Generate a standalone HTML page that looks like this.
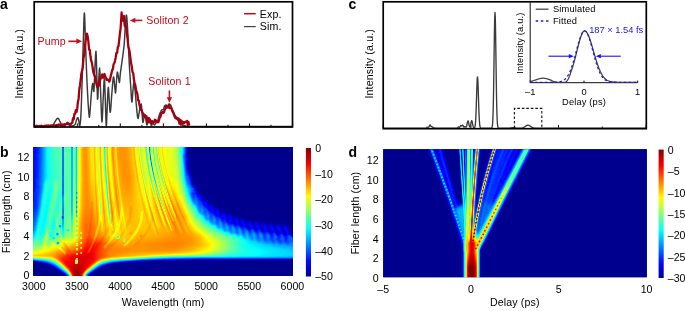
<!DOCTYPE html><html><head><meta charset="utf-8"><title>Figure</title><style>
html,body{margin:0;padding:0;background:#fff}svg{display:block}
text{font-family:"Liberation Sans",sans-serif;font-size:10.6px;fill:#000}
.w{letter-spacing:.15px}.sm{font-size:9.3px}.pl{font-weight:bold;font-size:14px;fill:#000}.red{fill:#c00a1a}.blue{fill:#1414f0}
.ax{fill:none;stroke:#000;stroke-width:1.7}.tk{stroke:#000;stroke-width:1;fill:none}
</style></head><body>
<svg width="685" height="311" viewBox="0 0 685 311">
<rect width="685" height="311" fill="#fff"/>
<rect x="33.5" y="147.5" width="259.5" height="128" fill="#00008f"/>
<defs><linearGradient id="b0" x2="0" y2="1"><stop offset="0" stop-color="#1c1c1c"/><stop offset=".238" stop-color="#1e1e1e"/><stop offset=".473" stop-color="#262626"/><stop offset=".691" stop-color="#4e4e4e"/><stop offset=".793" stop-color="#848484"/><stop offset=".809" stop-color="#8e8e8e"/><stop offset=".84" stop-color="#a7a7a7"/><stop offset=".848" stop-color="#a9a9a9"/><stop offset=".855" stop-color="#9c9c9c"/><stop offset=".863" stop-color="#7f7f7f"/><stop offset=".887" stop-color="#1b1b1b"/><stop offset=".895" stop-color="#000"/><stop offset="1" stop-color="#000"/></linearGradient><linearGradient id="b1" x2="0" y2="1"><stop offset="0" stop-color="#212121"/><stop offset=".238" stop-color="#242424"/><stop offset=".441" stop-color="#2c2c2c"/><stop offset=".473" stop-color="#2f2f2f"/><stop offset=".605" stop-color="#484848"/><stop offset=".691" stop-color="#555"/><stop offset=".73" stop-color="#676767"/><stop offset=".793" stop-color="#888"/><stop offset=".84" stop-color="#a9a9a9"/><stop offset=".848" stop-color="#aaa"/><stop offset=".855" stop-color="#9e9e9e"/><stop offset=".863" stop-color="#838383"/><stop offset=".895" stop-color="#050505"/><stop offset=".902" stop-color="#000"/><stop offset="1" stop-color="#000"/></linearGradient><linearGradient id="b2" x2="0" y2="1"><stop offset="0" stop-color="#262626"/><stop offset=".23" stop-color="#2b2b2b"/><stop offset=".473" stop-color="#383838"/><stop offset=".613" stop-color="#525252"/><stop offset=".691" stop-color="#5c5c5c"/><stop offset=".762" stop-color="#7b7b7b"/><stop offset=".801" stop-color="#909090"/><stop offset=".84" stop-color="#aaa"/><stop offset=".848" stop-color="#ababab"/><stop offset=".855" stop-color="#9f9f9f"/><stop offset=".863" stop-color="#868686"/><stop offset=".895" stop-color="#0f0f0f"/><stop offset=".902" stop-color="#000"/><stop offset="1" stop-color="#000"/></linearGradient><linearGradient id="b3" x2="0" y2="1"><stop offset="0" stop-color="#303030"/><stop offset=".23" stop-color="#353535"/><stop offset=".449" stop-color="#434343"/><stop offset=".676" stop-color="#606060"/><stop offset=".699" stop-color="#656565"/><stop offset=".754" stop-color="#7b7b7b"/><stop offset=".801" stop-color="#939393"/><stop offset=".84" stop-color="#ababab"/><stop offset=".848" stop-color="#acacac"/><stop offset=".855" stop-color="#a1a1a1"/><stop offset=".863" stop-color="#898989"/><stop offset=".895" stop-color="#191919"/><stop offset=".902" stop-color="#000"/><stop offset="1" stop-color="#000"/></linearGradient><linearGradient id="b4" x2="0" y2="1"><stop offset="0" stop-color="#3b3b3b"/><stop offset=".238" stop-color="#404040"/><stop offset=".473" stop-color="#525252"/><stop offset=".676" stop-color="#656565"/><stop offset=".699" stop-color="#6a6a6a"/><stop offset=".746" stop-color="#7b7b7b"/><stop offset=".793" stop-color="#929292"/><stop offset=".84" stop-color="#acacac"/><stop offset=".848" stop-color="#adadad"/><stop offset=".855" stop-color="#a2a2a2"/><stop offset=".863" stop-color="#8c8c8c"/><stop offset=".902" stop-color="#070707"/><stop offset=".91" stop-color="#000"/><stop offset="1" stop-color="#000"/></linearGradient><linearGradient id="b5" x2="0" y2="1"><stop offset="0" stop-color="#4a4a4a"/><stop offset=".23" stop-color="#4b4b4b"/><stop offset=".457" stop-color="#5c5c5c"/><stop offset=".613" stop-color="#646464"/><stop offset=".676" stop-color="#6a6a6a"/><stop offset=".699" stop-color="#6f6f6f"/><stop offset=".746" stop-color="#7f7f7f"/><stop offset=".832" stop-color="#aaa"/><stop offset=".84" stop-color="#aeaeae"/><stop offset=".848" stop-color="#aeaeae"/><stop offset=".855" stop-color="#a5a5a5"/><stop offset=".863" stop-color="#909090"/><stop offset=".902" stop-color="#121212"/><stop offset=".91" stop-color="#000"/><stop offset="1" stop-color="#000"/></linearGradient><linearGradient id="b6" x2="0" y2="1"><stop offset="0" stop-color="#585858"/><stop offset=".23" stop-color="#585858"/><stop offset=".621" stop-color="#676767"/><stop offset=".691" stop-color="#727272"/><stop offset=".738" stop-color="#7f7f7f"/><stop offset=".762" stop-color="#888"/><stop offset=".832" stop-color="#acacac"/><stop offset=".848" stop-color="#b0b0b0"/><stop offset=".855" stop-color="#a7a7a7"/><stop offset=".863" stop-color="#959595"/><stop offset=".91" stop-color="#080808"/><stop offset=".918" stop-color="#000"/><stop offset="1" stop-color="#000"/></linearGradient><linearGradient id="b7" x2="0" y2="1"><stop offset="0" stop-color="#606060"/><stop offset=".23" stop-color="#5f5f5f"/><stop offset=".613" stop-color="#666"/><stop offset=".684" stop-color="#737373"/><stop offset=".738" stop-color="#838383"/><stop offset=".762" stop-color="#8b8b8b"/><stop offset=".832" stop-color="#aeaeae"/><stop offset=".848" stop-color="#b1b1b1"/><stop offset=".855" stop-color="#a9a9a9"/><stop offset=".863" stop-color="#989898"/><stop offset=".918" stop-color="#000"/><stop offset="1" stop-color="#000"/></linearGradient><linearGradient id="b8" x2="0" y2="1"><stop offset="0" stop-color="#676767"/><stop offset=".23" stop-color="#646464"/><stop offset=".457" stop-color="#686868"/><stop offset=".621" stop-color="#666"/><stop offset=".684" stop-color="#707070"/><stop offset=".699" stop-color="#747474"/><stop offset=".754" stop-color="#8b8b8b"/><stop offset=".824" stop-color="#adadad"/><stop offset=".84" stop-color="#b3b3b3"/><stop offset=".848" stop-color="#b3b3b3"/><stop offset=".855" stop-color="#acacac"/><stop offset=".863" stop-color="#9d9d9d"/><stop offset=".918" stop-color="#101010"/><stop offset=".926" stop-color="#000"/><stop offset="1" stop-color="#000"/></linearGradient><linearGradient id="b9" x2="0" y2="1"><stop offset="0" stop-color="#6a6a6a"/><stop offset=".23" stop-color="#696969"/><stop offset=".457" stop-color="#6b6b6b"/><stop offset=".605" stop-color="#656565"/><stop offset=".629" stop-color="#666"/><stop offset=".691" stop-color="#6e6e6e"/><stop offset=".801" stop-color="#a5a5a5"/><stop offset=".832" stop-color="#b2b2b2"/><stop offset=".848" stop-color="#b6b6b6"/><stop offset=".855" stop-color="#b2b2b2"/><stop offset=".863" stop-color="#a7a7a7"/><stop offset=".879" stop-color="#848484"/><stop offset=".934" stop-color="#000"/><stop offset="1" stop-color="#000"/></linearGradient><linearGradient id="b10" x2="0" y2="1"><stop offset="0" stop-color="#6d6d6d"/><stop offset=".23" stop-color="#6a6a6a"/><stop offset=".457" stop-color="#6c6c6c"/><stop offset=".613" stop-color="#646464"/><stop offset=".676" stop-color="#686868"/><stop offset=".699" stop-color="#6e6e6e"/><stop offset=".754" stop-color="#919191"/><stop offset=".777" stop-color="#9d9d9d"/><stop offset=".816" stop-color="#aeaeae"/><stop offset=".848" stop-color="#b9b9b9"/><stop offset=".855" stop-color="#b7b7b7"/><stop offset=".863" stop-color="#b0b0b0"/><stop offset=".871" stop-color="#a2a2a2"/><stop offset=".941" stop-color="#020202"/><stop offset="1" stop-color="#000"/></linearGradient><linearGradient id="b11" x2="0" y2="1"><stop offset="0" stop-color="#707070"/><stop offset=".23" stop-color="#6c6c6c"/><stop offset=".457" stop-color="#6c6c6c"/><stop offset=".613" stop-color="#656565"/><stop offset=".684" stop-color="#676767"/><stop offset=".699" stop-color="#6d6d6d"/><stop offset=".746" stop-color="#909090"/><stop offset=".762" stop-color="#999"/><stop offset=".824" stop-color="#b5b5b5"/><stop offset=".855" stop-color="#bfbfbf"/><stop offset=".863" stop-color="#bdbdbd"/><stop offset=".871" stop-color="#b4b4b4"/><stop offset=".879" stop-color="#a6a6a6"/><stop offset=".949" stop-color="#060606"/><stop offset=".957" stop-color="#000"/><stop offset="1" stop-color="#000"/></linearGradient><linearGradient id="b12" x2="0" y2="1"><stop offset="0" stop-color="#727272"/><stop offset=".23" stop-color="#6d6d6d"/><stop offset=".457" stop-color="#6d6d6d"/><stop offset=".605" stop-color="#686868"/><stop offset=".676" stop-color="#6b6b6b"/><stop offset=".691" stop-color="#6e6e6e"/><stop offset=".699" stop-color="#727272"/><stop offset=".746" stop-color="#949494"/><stop offset=".762" stop-color="#9d9d9d"/><stop offset=".848" stop-color="#c3c3c3"/><stop offset=".863" stop-color="#c7c7c7"/><stop offset=".871" stop-color="#c5c5c5"/><stop offset=".879" stop-color="#bcbcbc"/><stop offset=".887" stop-color="#aeaeae"/><stop offset=".957" stop-color="#090909"/><stop offset=".965" stop-color="#000"/><stop offset="1" stop-color="#000"/></linearGradient><linearGradient id="b13" x2="0" y2="1"><stop offset="0" stop-color="#747474"/><stop offset=".605" stop-color="#6a6a6a"/><stop offset=".668" stop-color="#6f6f6f"/><stop offset=".691" stop-color="#737373"/><stop offset=".754" stop-color="#9c9c9c"/><stop offset=".809" stop-color="#b4b4b4"/><stop offset=".848" stop-color="#c8c8c8"/><stop offset=".871" stop-color="#cfcfcf"/><stop offset=".879" stop-color="#cecece"/><stop offset=".887" stop-color="#c7c7c7"/><stop offset=".895" stop-color="#b9b9b9"/><stop offset=".973" stop-color="#000"/><stop offset="1" stop-color="#000"/></linearGradient><linearGradient id="b14" x2="0" y2="1"><stop offset="0" stop-color="#757575"/><stop offset=".598" stop-color="#6c6c6c"/><stop offset=".629" stop-color="#6e6e6e"/><stop offset=".691" stop-color="#787878"/><stop offset=".762" stop-color="#a3a3a3"/><stop offset=".809" stop-color="#b8b8b8"/><stop offset=".848" stop-color="#ccc"/><stop offset=".871" stop-color="#d5d5d5"/><stop offset=".887" stop-color="#d7d7d7"/><stop offset=".895" stop-color="#d2d2d2"/><stop offset=".902" stop-color="#c6c6c6"/><stop offset=".91" stop-color="#b6b6b6"/><stop offset=".98" stop-color="#080808"/><stop offset=".988" stop-color="#000"/><stop offset="1" stop-color="#000"/></linearGradient><linearGradient id="b15" x2="0" y2="1"><stop offset="0" stop-color="#747474"/><stop offset=".473" stop-color="#707070"/><stop offset=".605" stop-color="#717171"/><stop offset=".668" stop-color="#777"/><stop offset=".684" stop-color="#797979"/><stop offset=".699" stop-color="#7f7f7f"/><stop offset=".754" stop-color="#a3a3a3"/><stop offset=".809" stop-color="#bbb"/><stop offset=".848" stop-color="#d0d0d0"/><stop offset=".895" stop-color="#ddd"/><stop offset=".902" stop-color="#dcdcdc"/><stop offset=".91" stop-color="#d5d5d5"/><stop offset=".918" stop-color="#c7c7c7"/><stop offset=".934" stop-color="#a0a0a0"/><stop offset=".988" stop-color="#0f0f0f"/><stop offset=".996" stop-color="#000"/><stop offset="1" stop-color="#000"/></linearGradient><linearGradient id="b16" x2="0" y2="1"><stop offset="0" stop-color="#747474"/><stop offset=".465" stop-color="#727272"/><stop offset=".613" stop-color="#767676"/><stop offset=".676" stop-color="#7c7c7c"/><stop offset=".699" stop-color="#838383"/><stop offset=".754" stop-color="#a5a5a5"/><stop offset=".848" stop-color="#d4d4d4"/><stop offset=".895" stop-color="#e0e0e0"/><stop offset=".91" stop-color="#e2e2e2"/><stop offset=".918" stop-color="#e0e0e0"/><stop offset=".926" stop-color="#d8d8d8"/><stop offset=".934" stop-color="#c9c9c9"/><stop offset=".949" stop-color="#9f9f9f"/><stop offset=".996" stop-color="#161616"/><stop offset="1" stop-color="#161616"/></linearGradient><linearGradient id="b17" x2="0" y2="1"><stop offset="0" stop-color="#737373"/><stop offset=".457" stop-color="#747474"/><stop offset=".676" stop-color="#808080"/><stop offset=".699" stop-color="#868686"/><stop offset=".754" stop-color="#a6a6a6"/><stop offset=".848" stop-color="#d7d7d7"/><stop offset=".902" stop-color="#e3e3e3"/><stop offset=".926" stop-color="#e4e4e4"/><stop offset=".934" stop-color="#e2e2e2"/><stop offset=".941" stop-color="#dcdcdc"/><stop offset=".949" stop-color="#ccc"/><stop offset=".965" stop-color="#9d9d9d"/><stop offset=".996" stop-color="#373737"/><stop offset="1" stop-color="#373737"/></linearGradient><linearGradient id="b18" x2="0" y2="1"><stop offset="0" stop-color="#737373"/><stop offset=".457" stop-color="#767676"/><stop offset=".684" stop-color="#858585"/><stop offset=".707" stop-color="#8e8e8e"/><stop offset=".754" stop-color="#a8a8a8"/><stop offset=".801" stop-color="#bfbfbf"/><stop offset=".848" stop-color="#dbdbdb"/><stop offset=".902" stop-color="#e5e5e5"/><stop offset=".941" stop-color="#e6e6e6"/><stop offset=".957" stop-color="#e4e4e4"/><stop offset=".965" stop-color="#dcdcdc"/><stop offset=".973" stop-color="#c9c9c9"/><stop offset=".996" stop-color="#777"/><stop offset="1" stop-color="#777"/></linearGradient><linearGradient id="b19" x2="0" y2="1"><stop offset="0" stop-color="#747474"/><stop offset=".457" stop-color="#7a7a7a"/><stop offset=".613" stop-color="#898989"/><stop offset=".684" stop-color="#8b8b8b"/><stop offset=".707" stop-color="#929292"/><stop offset=".801" stop-color="#c1c1c1"/><stop offset=".84" stop-color="#dadada"/><stop offset=".855" stop-color="#e0e0e0"/><stop offset=".91" stop-color="#e8e8e8"/><stop offset=".98" stop-color="#eee"/><stop offset=".988" stop-color="#ececec"/><stop offset=".996" stop-color="#e2e2e2"/><stop offset="1" stop-color="#e2e2e2"/></linearGradient><linearGradient id="b20" x2="0" y2="1"><stop offset="0" stop-color="#757575"/><stop offset=".23" stop-color="#7a7a7a"/><stop offset=".449" stop-color="#828282"/><stop offset=".613" stop-color="#919191"/><stop offset=".691" stop-color="#919191"/><stop offset=".715" stop-color="#9a9a9a"/><stop offset=".793" stop-color="#bfbfbf"/><stop offset=".848" stop-color="#e0e0e0"/><stop offset=".98" stop-color="#f5f5f5"/><stop offset="1" stop-color="#f7f7f7"/></linearGradient><linearGradient id="b21" x2="0" y2="1"><stop offset="0" stop-color="#797979"/><stop offset=".238" stop-color="#7f7f7f"/><stop offset=".457" stop-color="#8c8c8c"/><stop offset=".613" stop-color="#9a9a9a"/><stop offset=".691" stop-color="#989898"/><stop offset=".707" stop-color="#9c9c9c"/><stop offset=".762" stop-color="#b3b3b3"/><stop offset=".801" stop-color="#c7c7c7"/><stop offset=".848" stop-color="#e3e3e3"/><stop offset=".91" stop-color="#ebebeb"/><stop offset=".988" stop-color="#fbfbfb"/><stop offset="1" stop-color="#fcfcfc"/></linearGradient><linearGradient id="b22" x2="0" y2="1"><stop offset="0" stop-color="#8d8d8d"/><stop offset=".23" stop-color="#909090"/><stop offset=".441" stop-color="#979797"/><stop offset=".613" stop-color="#a7a7a7"/><stop offset=".691" stop-color="#a7a7a7"/><stop offset=".754" stop-color="#b8b8b8"/><stop offset=".801" stop-color="#ccc"/><stop offset=".848" stop-color="#e5e5e5"/><stop offset=".91" stop-color="#ebebeb"/><stop offset=".988" stop-color="#f9f9f9"/><stop offset="1" stop-color="#fafafa"/></linearGradient><linearGradient id="b23" x2="0" y2="1"><stop offset="0" stop-color="#a4a4a4"/><stop offset=".23" stop-color="#a2a2a2"/><stop offset=".449" stop-color="#a5a5a5"/><stop offset=".613" stop-color="#b3b3b3"/><stop offset=".691" stop-color="#b4b4b4"/><stop offset=".754" stop-color="#c0c0c0"/><stop offset=".848" stop-color="#e5e5e5"/><stop offset="1" stop-color="#f5f5f5"/></linearGradient><linearGradient id="b24" x2="0" y2="1"><stop offset="0" stop-color="#b4b4b4"/><stop offset=".254" stop-color="#b1b1b1"/><stop offset=".457" stop-color="#b3b3b3"/><stop offset=".613" stop-color="#bbb"/><stop offset=".684" stop-color="#bbb"/><stop offset=".754" stop-color="#c7c7c7"/><stop offset=".848" stop-color="#e6e6e6"/><stop offset=".973" stop-color="#ebebeb"/><stop offset=".98" stop-color="#ebebeb"/><stop offset=".988" stop-color="#e6e6e6"/><stop offset=".996" stop-color="#d3d3d3"/><stop offset="1" stop-color="#d3d3d3"/></linearGradient><linearGradient id="b25" x2="0" y2="1"><stop offset="0" stop-color="#bababa"/><stop offset=".457" stop-color="#b9b9b9"/><stop offset=".613" stop-color="#c2c2c2"/><stop offset=".684" stop-color="#c2c2c2"/><stop offset=".754" stop-color="#cdcdcd"/><stop offset=".848" stop-color="#e7e7e7"/><stop offset=".949" stop-color="#e6e6e6"/><stop offset=".957" stop-color="#e5e5e5"/><stop offset=".965" stop-color="#e1e1e1"/><stop offset=".973" stop-color="#d2d2d2"/><stop offset=".98" stop-color="#b7b7b7"/><stop offset=".996" stop-color="#7b7b7b"/><stop offset="1" stop-color="#7b7b7b"/></linearGradient><linearGradient id="b26" x2="0" y2="1"><stop offset="0" stop-color="#bababa"/><stop offset=".449" stop-color="#bbb"/><stop offset=".613" stop-color="#c4c4c4"/><stop offset=".684" stop-color="#c4c4c4"/><stop offset=".707" stop-color="#c7c7c7"/><stop offset=".809" stop-color="#e0e0e0"/><stop offset=".84" stop-color="#e6e6e6"/><stop offset=".934" stop-color="#e4e4e4"/><stop offset=".941" stop-color="#e2e2e2"/><stop offset=".949" stop-color="#dbdbdb"/><stop offset=".957" stop-color="#c7c7c7"/><stop offset=".965" stop-color="#acacac"/><stop offset=".996" stop-color="#383838"/><stop offset="1" stop-color="#383838"/></linearGradient><linearGradient id="b27" x2="0" y2="1"><stop offset="0" stop-color="#b1b1b1"/><stop offset=".457" stop-color="#bcbcbc"/><stop offset=".684" stop-color="#c5c5c5"/><stop offset=".801" stop-color="#e0e0e0"/><stop offset=".84" stop-color="#e6e6e6"/><stop offset=".926" stop-color="#e1e1e1"/><stop offset=".934" stop-color="#dbdbdb"/><stop offset=".941" stop-color="#cbcbcb"/><stop offset=".957" stop-color="#989898"/><stop offset=".996" stop-color="#0e0e0e"/><stop offset="1" stop-color="#0e0e0e"/></linearGradient><linearGradient id="b28" x2="0" y2="1"><stop offset="0" stop-color="#a6a6a6"/><stop offset=".23" stop-color="#acacac"/><stop offset=".676" stop-color="#c6c6c6"/><stop offset=".699" stop-color="#c9c9c9"/><stop offset=".762" stop-color="#dadada"/><stop offset=".824" stop-color="#e4e4e4"/><stop offset=".855" stop-color="#e5e5e5"/><stop offset=".91" stop-color="#dfdfdf"/><stop offset=".918" stop-color="#dbdbdb"/><stop offset=".926" stop-color="#cfcfcf"/><stop offset=".934" stop-color="#bababa"/><stop offset=".988" stop-color="#040404"/><stop offset=".996" stop-color="#000"/><stop offset="1" stop-color="#000"/></linearGradient><linearGradient id="b29" x2="0" y2="1"><stop offset="0" stop-color="#a1a1a1"/><stop offset=".23" stop-color="#a7a7a7"/><stop offset=".605" stop-color="#c1c1c1"/><stop offset=".684" stop-color="#c3c3c3"/><stop offset=".699" stop-color="#c6c6c6"/><stop offset=".754" stop-color="#dadada"/><stop offset=".777" stop-color="#dedede"/><stop offset=".84" stop-color="#e4e4e4"/><stop offset=".887" stop-color="#e0e0e0"/><stop offset=".902" stop-color="#dcdcdc"/><stop offset=".91" stop-color="#d3d3d3"/><stop offset=".918" stop-color="#c2c2c2"/><stop offset=".934" stop-color="#929292"/><stop offset=".973" stop-color="#161616"/><stop offset=".98" stop-color="#000"/><stop offset="1" stop-color="#000"/></linearGradient><linearGradient id="b30" x2="0" y2="1"><stop offset="0" stop-color="#a2a2a2"/><stop offset=".23" stop-color="#a3a3a3"/><stop offset=".457" stop-color="#b0b0b0"/><stop offset=".613" stop-color="#bebebe"/><stop offset=".691" stop-color="#c1c1c1"/><stop offset=".746" stop-color="#d6d6d6"/><stop offset=".77" stop-color="#dbdbdb"/><stop offset=".809" stop-color="#dedede"/><stop offset=".879" stop-color="#dcdcdc"/><stop offset=".887" stop-color="#dbdbdb"/><stop offset=".895" stop-color="#d5d5d5"/><stop offset=".902" stop-color="#c8c8c8"/><stop offset=".918" stop-color="#9d9d9d"/><stop offset=".965" stop-color="#0e0e0e"/><stop offset=".973" stop-color="#000"/><stop offset="1" stop-color="#000"/></linearGradient><linearGradient id="b31" x2="0" y2="1"><stop offset="0" stop-color="#a3a3a3"/><stop offset=".23" stop-color="#a2a2a2"/><stop offset=".457" stop-color="#ababab"/><stop offset=".613" stop-color="#bababa"/><stop offset=".684" stop-color="#bdbdbd"/><stop offset=".699" stop-color="#c0c0c0"/><stop offset=".746" stop-color="#d4d4d4"/><stop offset=".762" stop-color="#d7d7d7"/><stop offset=".871" stop-color="#d7d7d7"/><stop offset=".879" stop-color="#d4d4d4"/><stop offset=".887" stop-color="#ccc"/><stop offset=".895" stop-color="#bcbcbc"/><stop offset=".91" stop-color="#919191"/><stop offset=".957" stop-color="#080808"/><stop offset=".965" stop-color="#000"/><stop offset="1" stop-color="#000"/></linearGradient><linearGradient id="b32" x2="0" y2="1"><stop offset="0" stop-color="#a2a2a2"/><stop offset=".23" stop-color="#a2a2a2"/><stop offset=".457" stop-color="#a9a9a9"/><stop offset=".684" stop-color="#bbb"/><stop offset=".699" stop-color="#bebebe"/><stop offset=".754" stop-color="#d4d4d4"/><stop offset=".863" stop-color="#d1d1d1"/><stop offset=".871" stop-color="#cdcdcd"/><stop offset=".879" stop-color="#c3c3c3"/><stop offset=".887" stop-color="#b1b1b1"/><stop offset=".949" stop-color="#020202"/><stop offset=".957" stop-color="#000"/><stop offset="1" stop-color="#000"/></linearGradient><linearGradient id="b33" x2="0" y2="1"><stop offset="0" stop-color="#a1a1a1"/><stop offset=".23" stop-color="#a0a0a0"/><stop offset=".465" stop-color="#a8a8a8"/><stop offset=".684" stop-color="#b9b9b9"/><stop offset=".754" stop-color="#cfcfcf"/><stop offset=".809" stop-color="#ccc"/><stop offset=".855" stop-color="#cdcdcd"/><stop offset=".863" stop-color="#cbcbcb"/><stop offset=".871" stop-color="#c4c4c4"/><stop offset=".879" stop-color="#b4b4b4"/><stop offset=".895" stop-color="#898989"/><stop offset=".941" stop-color="#000"/><stop offset="1" stop-color="#000"/></linearGradient><linearGradient id="b34" x2="0" y2="1"><stop offset="0" stop-color="#9c9c9c"/><stop offset=".23" stop-color="#9e9e9e"/><stop offset=".473" stop-color="#a8a8a8"/><stop offset=".613" stop-color="#b0b0b0"/><stop offset=".684" stop-color="#b6b6b6"/><stop offset=".754" stop-color="#cbcbcb"/><stop offset=".855" stop-color="#c9c9c9"/><stop offset=".863" stop-color="#c4c4c4"/><stop offset=".871" stop-color="#b6b6b6"/><stop offset=".887" stop-color="#8b8b8b"/><stop offset=".934" stop-color="#000"/><stop offset="1" stop-color="#000"/></linearGradient><linearGradient id="b35" x2="0" y2="1"><stop offset="0" stop-color="#969696"/><stop offset=".23" stop-color="#9b9b9b"/><stop offset=".613" stop-color="#adadad"/><stop offset=".691" stop-color="#b5b5b5"/><stop offset=".754" stop-color="#c7c7c7"/><stop offset=".848" stop-color="#c6c6c6"/><stop offset=".855" stop-color="#c5c5c5"/><stop offset=".863" stop-color="#bebebe"/><stop offset=".871" stop-color="#aeaeae"/><stop offset=".887" stop-color="#808080"/><stop offset=".926" stop-color="#070707"/><stop offset=".934" stop-color="#000"/><stop offset="1" stop-color="#000"/></linearGradient><linearGradient id="b36" x2="0" y2="1"><stop offset="0" stop-color="#969696"/><stop offset=".23" stop-color="#9a9a9a"/><stop offset=".457" stop-color="#a6a6a6"/><stop offset=".613" stop-color="#ababab"/><stop offset=".691" stop-color="#b1b1b1"/><stop offset=".754" stop-color="#c4c4c4"/><stop offset=".848" stop-color="#c3c3c3"/><stop offset=".855" stop-color="#c1c1c1"/><stop offset=".863" stop-color="#b8b8b8"/><stop offset=".871" stop-color="#a6a6a6"/><stop offset=".918" stop-color="#121212"/><stop offset=".926" stop-color="#000"/><stop offset="1" stop-color="#000"/></linearGradient><linearGradient id="b37" x2="0" y2="1"><stop offset="0" stop-color="#a0a0a0"/><stop offset=".23" stop-color="#9f9f9f"/><stop offset=".457" stop-color="#a8a8a8"/><stop offset=".613" stop-color="#a8a8a8"/><stop offset=".691" stop-color="#aeaeae"/><stop offset=".746" stop-color="#bfbfbf"/><stop offset=".762" stop-color="#c2c2c2"/><stop offset=".848" stop-color="#c0c0c0"/><stop offset=".855" stop-color="#bdbdbd"/><stop offset=".863" stop-color="#b2b2b2"/><stop offset=".871" stop-color="#9d9d9d"/><stop offset=".918" stop-color="#030303"/><stop offset=".926" stop-color="#000"/><stop offset="1" stop-color="#000"/></linearGradient><linearGradient id="b38" x2="0" y2="1"><stop offset="0" stop-color="#a7a7a7"/><stop offset=".23" stop-color="#a4a4a4"/><stop offset=".457" stop-color="#aaa"/><stop offset=".621" stop-color="#a7a7a7"/><stop offset=".691" stop-color="#ababab"/><stop offset=".746" stop-color="#bcbcbc"/><stop offset=".762" stop-color="#bfbfbf"/><stop offset=".848" stop-color="#bcbcbc"/><stop offset=".855" stop-color="#b9b9b9"/><stop offset=".863" stop-color="#ababab"/><stop offset=".871" stop-color="#949494"/><stop offset=".91" stop-color="#0f0f0f"/><stop offset=".918" stop-color="#000"/><stop offset="1" stop-color="#000"/></linearGradient><linearGradient id="b39" x2="0" y2="1"><stop offset="0" stop-color="#adadad"/><stop offset=".23" stop-color="#a8a8a8"/><stop offset=".465" stop-color="#ababab"/><stop offset=".621" stop-color="#a6a6a6"/><stop offset=".691" stop-color="#aaa"/><stop offset=".762" stop-color="#bcbcbc"/><stop offset=".809" stop-color="#bebebe"/><stop offset=".848" stop-color="#bbb"/><stop offset=".855" stop-color="#b7b7b7"/><stop offset=".863" stop-color="#a8a8a8"/><stop offset=".871" stop-color="#909090"/><stop offset=".91" stop-color="#080808"/><stop offset=".918" stop-color="#000"/><stop offset="1" stop-color="#000"/></linearGradient><linearGradient id="b40" x2="0" y2="1"><stop offset="0" stop-color="#b3b3b3"/><stop offset=".23" stop-color="#acacac"/><stop offset=".457" stop-color="#adadad"/><stop offset=".621" stop-color="#a5a5a5"/><stop offset=".691" stop-color="#a8a8a8"/><stop offset=".754" stop-color="#b8b8b8"/><stop offset=".793" stop-color="#bdbdbd"/><stop offset=".816" stop-color="#bdbdbd"/><stop offset=".848" stop-color="#bababa"/><stop offset=".855" stop-color="#b5b5b5"/><stop offset=".863" stop-color="#a5a5a5"/><stop offset=".871" stop-color="#8b8b8b"/><stop offset=".91" stop-color="#000"/><stop offset="1" stop-color="#000"/></linearGradient><linearGradient id="b41" x2="0" y2="1"><stop offset="0" stop-color="#b5b5b5"/><stop offset=".23" stop-color="#afafaf"/><stop offset=".457" stop-color="#aeaeae"/><stop offset=".621" stop-color="#a4a4a4"/><stop offset=".691" stop-color="#a6a6a6"/><stop offset=".754" stop-color="#b7b7b7"/><stop offset=".801" stop-color="#bdbdbd"/><stop offset=".848" stop-color="#b8b8b8"/><stop offset=".855" stop-color="#b3b3b3"/><stop offset=".863" stop-color="#a1a1a1"/><stop offset=".871" stop-color="#878787"/><stop offset=".902" stop-color="#141414"/><stop offset=".91" stop-color="#000"/><stop offset="1" stop-color="#000"/></linearGradient><linearGradient id="b42" x2="0" y2="1"><stop offset="0" stop-color="#b8b8b8"/><stop offset=".457" stop-color="#afafaf"/><stop offset=".613" stop-color="#a5a5a5"/><stop offset=".676" stop-color="#a4a4a4"/><stop offset=".699" stop-color="#a6a6a6"/><stop offset=".754" stop-color="#b6b6b6"/><stop offset=".785" stop-color="#bbb"/><stop offset=".809" stop-color="#bdbdbd"/><stop offset=".84" stop-color="#b8b8b8"/><stop offset=".848" stop-color="#b7b7b7"/><stop offset=".855" stop-color="#b0b0b0"/><stop offset=".863" stop-color="#9d9d9d"/><stop offset=".871" stop-color="#828282"/><stop offset=".902" stop-color="#0d0d0d"/><stop offset=".91" stop-color="#000"/><stop offset="1" stop-color="#000"/></linearGradient><linearGradient id="b43" x2="0" y2="1"><stop offset="0" stop-color="#bababa"/><stop offset=".449" stop-color="#b0b0b0"/><stop offset=".613" stop-color="#a6a6a6"/><stop offset=".668" stop-color="#a6a6a6"/><stop offset=".699" stop-color="#a8a8a8"/><stop offset=".754" stop-color="#b6b6b6"/><stop offset=".793" stop-color="#bbb"/><stop offset=".809" stop-color="#bcbcbc"/><stop offset=".84" stop-color="#b7b7b7"/><stop offset=".848" stop-color="#b5b5b5"/><stop offset=".855" stop-color="#aeaeae"/><stop offset=".863" stop-color="#999"/><stop offset=".902" stop-color="#040404"/><stop offset=".91" stop-color="#000"/><stop offset="1" stop-color="#000"/></linearGradient><linearGradient id="b44" x2="0" y2="1"><stop offset="0" stop-color="#bababa"/><stop offset=".238" stop-color="#b8b8b8"/><stop offset=".645" stop-color="#a7a7a7"/><stop offset=".691" stop-color="#a8a8a8"/><stop offset=".762" stop-color="#b7b7b7"/><stop offset=".801" stop-color="#bcbcbc"/><stop offset=".816" stop-color="#bbb"/><stop offset=".848" stop-color="#b4b4b4"/><stop offset=".855" stop-color="#acacac"/><stop offset=".863" stop-color="#969696"/><stop offset=".895" stop-color="#1c1c1c"/><stop offset=".902" stop-color="#000"/><stop offset="1" stop-color="#000"/></linearGradient><linearGradient id="b45" x2="0" y2="1"><stop offset="0" stop-color="#bababa"/><stop offset=".238" stop-color="#bababa"/><stop offset=".629" stop-color="#a9a9a9"/><stop offset=".691" stop-color="#aaa"/><stop offset=".785" stop-color="#bababa"/><stop offset=".816" stop-color="#bababa"/><stop offset=".848" stop-color="#b3b3b3"/><stop offset=".855" stop-color="#ababab"/><stop offset=".863" stop-color="#949494"/><stop offset=".895" stop-color="#171717"/><stop offset=".902" stop-color="#000"/><stop offset="1" stop-color="#000"/></linearGradient><linearGradient id="b46" x2="0" y2="1"><stop offset="0" stop-color="#b8b8b8"/><stop offset=".238" stop-color="#bababa"/><stop offset=".621" stop-color="#aaa"/><stop offset=".691" stop-color="#ababab"/><stop offset=".793" stop-color="#bbb"/><stop offset=".816" stop-color="#bababa"/><stop offset=".848" stop-color="#b2b2b2"/><stop offset=".855" stop-color="#a9a9a9"/><stop offset=".863" stop-color="#919191"/><stop offset=".895" stop-color="#121212"/><stop offset=".902" stop-color="#000"/><stop offset="1" stop-color="#000"/></linearGradient><linearGradient id="b47" x2="0" y2="1"><stop offset="0" stop-color="#b4b4b4"/><stop offset=".238" stop-color="#bababa"/><stop offset=".629" stop-color="#ababab"/><stop offset=".691" stop-color="#acacac"/><stop offset=".793" stop-color="#bbb"/><stop offset=".816" stop-color="#b9b9b9"/><stop offset=".848" stop-color="#b1b1b1"/><stop offset=".855" stop-color="#a6a6a6"/><stop offset=".863" stop-color="#8d8d8d"/><stop offset=".895" stop-color="#0d0d0d"/><stop offset=".902" stop-color="#000"/><stop offset="1" stop-color="#000"/></linearGradient><linearGradient id="b48" x2="0" y2="1"><stop offset="0" stop-color="#b0b0b0"/><stop offset=".23" stop-color="#b9b9b9"/><stop offset=".605" stop-color="#adadad"/><stop offset=".676" stop-color="#acacac"/><stop offset=".699" stop-color="#aeaeae"/><stop offset=".777" stop-color="#b9b9b9"/><stop offset=".809" stop-color="#bbb"/><stop offset=".848" stop-color="#afafaf"/><stop offset=".855" stop-color="#a4a4a4"/><stop offset=".863" stop-color="#8a8a8a"/><stop offset=".895" stop-color="#090909"/><stop offset=".902" stop-color="#000"/><stop offset="1" stop-color="#000"/></linearGradient><linearGradient id="b49" x2="0" y2="1"><stop offset="0" stop-color="#ababab"/><stop offset=".23" stop-color="#b4b4b4"/><stop offset=".684" stop-color="#adadad"/><stop offset=".762" stop-color="#b8b8b8"/><stop offset=".809" stop-color="#bababa"/><stop offset=".848" stop-color="#aeaeae"/><stop offset=".855" stop-color="#a1a1a1"/><stop offset=".863" stop-color="#868686"/><stop offset=".895" stop-color="#040404"/><stop offset=".902" stop-color="#000"/><stop offset="1" stop-color="#000"/></linearGradient><linearGradient id="b50" x2="0" y2="1"><stop offset="0" stop-color="#a4a4a4"/><stop offset=".23" stop-color="#afafaf"/><stop offset=".684" stop-color="#aeaeae"/><stop offset=".762" stop-color="#b8b8b8"/><stop offset=".809" stop-color="#bababa"/><stop offset=".84" stop-color="#b1b1b1"/><stop offset=".848" stop-color="#adadad"/><stop offset=".855" stop-color="#9e9e9e"/><stop offset=".863" stop-color="#828282"/><stop offset=".895" stop-color="#000"/><stop offset="1" stop-color="#000"/></linearGradient><linearGradient id="b51" x2="0" y2="1"><stop offset="0" stop-color="#9d9d9d"/><stop offset=".23" stop-color="#aaa"/><stop offset=".676" stop-color="#aeaeae"/><stop offset=".762" stop-color="#b8b8b8"/><stop offset=".809" stop-color="#bababa"/><stop offset=".84" stop-color="#b0b0b0"/><stop offset=".848" stop-color="#ababab"/><stop offset=".855" stop-color="#9b9b9b"/><stop offset=".863" stop-color="#7e7e7e"/><stop offset=".887" stop-color="#1b1b1b"/><stop offset=".895" stop-color="#000"/><stop offset="1" stop-color="#000"/></linearGradient><linearGradient id="b52" x2="0" y2="1"><stop offset="0" stop-color="#979797"/><stop offset=".23" stop-color="#a4a4a4"/><stop offset=".676" stop-color="#afafaf"/><stop offset=".762" stop-color="#b9b9b9"/><stop offset=".809" stop-color="#bababa"/><stop offset=".84" stop-color="#afafaf"/><stop offset=".848" stop-color="#aaa"/><stop offset=".855" stop-color="#989898"/><stop offset=".863" stop-color="#7a7a7a"/><stop offset=".887" stop-color="#171717"/><stop offset=".895" stop-color="#000"/><stop offset="1" stop-color="#000"/></linearGradient><linearGradient id="b53" x2="0" y2="1"><stop offset="0" stop-color="#969696"/><stop offset=".457" stop-color="#a8a8a8"/><stop offset=".621" stop-color="#acacac"/><stop offset=".691" stop-color="#b0b0b0"/><stop offset=".762" stop-color="#b9b9b9"/><stop offset=".809" stop-color="#b9b9b9"/><stop offset=".84" stop-color="#afafaf"/><stop offset=".848" stop-color="#a8a8a8"/><stop offset=".855" stop-color="#949494"/><stop offset=".863" stop-color="#767676"/><stop offset=".887" stop-color="#121212"/><stop offset=".895" stop-color="#000"/><stop offset="1" stop-color="#000"/></linearGradient><linearGradient id="b54" x2="0" y2="1"><stop offset="0" stop-color="#959595"/><stop offset=".23" stop-color="#9a9a9a"/><stop offset=".457" stop-color="#a8a8a8"/><stop offset=".621" stop-color="#acacac"/><stop offset=".691" stop-color="#b0b0b0"/><stop offset=".754" stop-color="#b9b9b9"/><stop offset=".809" stop-color="#b9b9b9"/><stop offset=".84" stop-color="#aeaeae"/><stop offset=".848" stop-color="#a6a6a6"/><stop offset=".855" stop-color="#919191"/><stop offset=".863" stop-color="#717171"/><stop offset=".887" stop-color="#0d0d0d"/><stop offset=".895" stop-color="#000"/><stop offset="1" stop-color="#000"/></linearGradient><linearGradient id="b55" x2="0" y2="1"><stop offset="0" stop-color="#949494"/><stop offset=".23" stop-color="#989898"/><stop offset=".457" stop-color="#a8a8a8"/><stop offset=".629" stop-color="#acacac"/><stop offset=".691" stop-color="#b1b1b1"/><stop offset=".762" stop-color="#bababa"/><stop offset=".809" stop-color="#b9b9b9"/><stop offset=".84" stop-color="#adadad"/><stop offset=".848" stop-color="#a4a4a4"/><stop offset=".855" stop-color="#8d8d8d"/><stop offset=".887" stop-color="#080808"/><stop offset=".895" stop-color="#000"/><stop offset="1" stop-color="#000"/></linearGradient><linearGradient id="b56" x2="0" y2="1"><stop offset="0" stop-color="#939393"/><stop offset=".23" stop-color="#969696"/><stop offset=".457" stop-color="#a8a8a8"/><stop offset=".621" stop-color="#acacac"/><stop offset=".691" stop-color="#b1b1b1"/><stop offset=".754" stop-color="#bababa"/><stop offset=".801" stop-color="#bababa"/><stop offset=".832" stop-color="#b0b0b0"/><stop offset=".84" stop-color="#acacac"/><stop offset=".848" stop-color="#a2a2a2"/><stop offset=".855" stop-color="#8b8b8b"/><stop offset=".887" stop-color="#060606"/><stop offset=".895" stop-color="#000"/><stop offset="1" stop-color="#000"/></linearGradient><linearGradient id="b57" x2="0" y2="1"><stop offset="0" stop-color="#929292"/><stop offset=".23" stop-color="#949494"/><stop offset=".457" stop-color="#a8a8a8"/><stop offset=".621" stop-color="#acacac"/><stop offset=".691" stop-color="#b1b1b1"/><stop offset=".754" stop-color="#bababa"/><stop offset=".801" stop-color="#bababa"/><stop offset=".832" stop-color="#afafaf"/><stop offset=".84" stop-color="#ababab"/><stop offset=".848" stop-color="#a0a0a0"/><stop offset=".855" stop-color="#878787"/><stop offset=".887" stop-color="#040404"/><stop offset=".895" stop-color="#000"/><stop offset="1" stop-color="#000"/></linearGradient><linearGradient id="b58" x2="0" y2="1"><stop offset="0" stop-color="#929292"/><stop offset=".23" stop-color="#959595"/><stop offset=".457" stop-color="#a9a9a9"/><stop offset=".621" stop-color="#acacac"/><stop offset=".691" stop-color="#b1b1b1"/><stop offset=".754" stop-color="#bbb"/><stop offset=".801" stop-color="#bababa"/><stop offset=".816" stop-color="#b6b6b6"/><stop offset=".832" stop-color="#afafaf"/><stop offset=".84" stop-color="#aaa"/><stop offset=".848" stop-color="#9d9d9d"/><stop offset=".855" stop-color="#848484"/><stop offset=".887" stop-color="#020202"/><stop offset=".895" stop-color="#000"/><stop offset="1" stop-color="#000"/></linearGradient><linearGradient id="b59" x2="0" y2="1"><stop offset="0" stop-color="#949494"/><stop offset=".23" stop-color="#969696"/><stop offset=".457" stop-color="#ababab"/><stop offset=".621" stop-color="#adadad"/><stop offset=".691" stop-color="#b2b2b2"/><stop offset=".754" stop-color="#bbb"/><stop offset=".801" stop-color="#bababa"/><stop offset=".816" stop-color="#b6b6b6"/><stop offset=".832" stop-color="#aeaeae"/><stop offset=".84" stop-color="#a9a9a9"/><stop offset=".848" stop-color="#9b9b9b"/><stop offset=".855" stop-color="#818181"/><stop offset=".887" stop-color="#000"/><stop offset="1" stop-color="#000"/></linearGradient><linearGradient id="b60" x2="0" y2="1"><stop offset="0" stop-color="#979797"/><stop offset=".23" stop-color="#969696"/><stop offset=".457" stop-color="#acacac"/><stop offset=".621" stop-color="#adadad"/><stop offset=".691" stop-color="#b2b2b2"/><stop offset=".754" stop-color="#bbb"/><stop offset=".801" stop-color="#bababa"/><stop offset=".816" stop-color="#b6b6b6"/><stop offset=".832" stop-color="#aeaeae"/><stop offset=".84" stop-color="#a8a8a8"/><stop offset=".848" stop-color="#999"/><stop offset=".855" stop-color="#7e7e7e"/><stop offset=".887" stop-color="#000"/><stop offset="1" stop-color="#000"/></linearGradient><linearGradient id="b61" x2="0" y2="1"><stop offset="0" stop-color="#999"/><stop offset=".23" stop-color="#979797"/><stop offset=".457" stop-color="#aeaeae"/><stop offset=".621" stop-color="#adadad"/><stop offset=".691" stop-color="#b2b2b2"/><stop offset=".754" stop-color="#bcbcbc"/><stop offset=".801" stop-color="#bababa"/><stop offset=".816" stop-color="#b6b6b6"/><stop offset=".832" stop-color="#aeaeae"/><stop offset=".84" stop-color="#a7a7a7"/><stop offset=".848" stop-color="#969696"/><stop offset=".855" stop-color="#7b7b7b"/><stop offset=".879" stop-color="#1c1c1c"/><stop offset=".887" stop-color="#000"/><stop offset="1" stop-color="#000"/></linearGradient><linearGradient id="b62" x2="0" y2="1"><stop offset="0" stop-color="#9a9a9a"/><stop offset=".23" stop-color="#989898"/><stop offset=".457" stop-color="#afafaf"/><stop offset=".621" stop-color="#aeaeae"/><stop offset=".691" stop-color="#b3b3b3"/><stop offset=".754" stop-color="#bcbcbc"/><stop offset=".801" stop-color="#bababa"/><stop offset=".824" stop-color="#b2b2b2"/><stop offset=".832" stop-color="#adadad"/><stop offset=".84" stop-color="#a5a5a5"/><stop offset=".848" stop-color="#939393"/><stop offset=".855" stop-color="#787878"/><stop offset=".879" stop-color="#1a1a1a"/><stop offset=".887" stop-color="#000"/><stop offset="1" stop-color="#000"/></linearGradient><linearGradient id="b63" x2="0" y2="1"><stop offset="0" stop-color="#9a9a9a"/><stop offset=".23" stop-color="#999"/><stop offset=".457" stop-color="#b0b0b0"/><stop offset=".621" stop-color="#aeaeae"/><stop offset=".691" stop-color="#b3b3b3"/><stop offset=".754" stop-color="#bcbcbc"/><stop offset=".801" stop-color="#bababa"/><stop offset=".824" stop-color="#b2b2b2"/><stop offset=".832" stop-color="#adadad"/><stop offset=".84" stop-color="#a4a4a4"/><stop offset=".848" stop-color="#919191"/><stop offset=".855" stop-color="#757575"/><stop offset=".879" stop-color="#181818"/><stop offset=".887" stop-color="#000"/><stop offset="1" stop-color="#000"/></linearGradient><linearGradient id="b64" x2="0" y2="1"><stop offset="0" stop-color="#9b9b9b"/><stop offset=".23" stop-color="#9a9a9a"/><stop offset=".457" stop-color="#b0b0b0"/><stop offset=".621" stop-color="#afafaf"/><stop offset=".691" stop-color="#b4b4b4"/><stop offset=".754" stop-color="#bdbdbd"/><stop offset=".801" stop-color="#bababa"/><stop offset=".824" stop-color="#b1b1b1"/><stop offset=".832" stop-color="#acacac"/><stop offset=".84" stop-color="#a2a2a2"/><stop offset=".848" stop-color="#8e8e8e"/><stop offset=".855" stop-color="#727272"/><stop offset=".879" stop-color="#161616"/><stop offset=".887" stop-color="#000"/><stop offset="1" stop-color="#000"/></linearGradient><linearGradient id="b65" x2="0" y2="1"><stop offset="0" stop-color="#9b9b9b"/><stop offset=".23" stop-color="#9a9a9a"/><stop offset=".465" stop-color="#b2b2b2"/><stop offset=".621" stop-color="#b1b1b1"/><stop offset=".691" stop-color="#b4b4b4"/><stop offset=".754" stop-color="#bdbdbd"/><stop offset=".801" stop-color="#bababa"/><stop offset=".824" stop-color="#b1b1b1"/><stop offset=".832" stop-color="#ababab"/><stop offset=".84" stop-color="#a0a0a0"/><stop offset=".848" stop-color="#8b8b8b"/><stop offset=".855" stop-color="#6f6f6f"/><stop offset=".879" stop-color="#141414"/><stop offset=".887" stop-color="#000"/><stop offset="1" stop-color="#000"/></linearGradient><linearGradient id="b66" x2="0" y2="1"><stop offset="0" stop-color="#9a9a9a"/><stop offset=".23" stop-color="#9a9a9a"/><stop offset=".465" stop-color="#b3b3b3"/><stop offset=".535" stop-color="#b5b5b5"/><stop offset=".621" stop-color="#b2b2b2"/><stop offset=".691" stop-color="#b5b5b5"/><stop offset=".754" stop-color="#bebebe"/><stop offset=".801" stop-color="#bababa"/><stop offset=".824" stop-color="#b0b0b0"/><stop offset=".832" stop-color="#aaa"/><stop offset=".84" stop-color="#9e9e9e"/><stop offset=".848" stop-color="#888"/><stop offset=".879" stop-color="#121212"/><stop offset=".887" stop-color="#000"/><stop offset="1" stop-color="#000"/></linearGradient><linearGradient id="b67" x2="0" y2="1"><stop offset="0" stop-color="#999"/><stop offset=".23" stop-color="#999"/><stop offset=".465" stop-color="#b5b5b5"/><stop offset=".535" stop-color="#b6b6b6"/><stop offset=".621" stop-color="#b3b3b3"/><stop offset=".691" stop-color="#b6b6b6"/><stop offset=".754" stop-color="#bebebe"/><stop offset=".793" stop-color="#bbb"/><stop offset=".809" stop-color="#b8b8b8"/><stop offset=".824" stop-color="#b0b0b0"/><stop offset=".832" stop-color="#a9a9a9"/><stop offset=".84" stop-color="#9c9c9c"/><stop offset=".848" stop-color="#858585"/><stop offset=".879" stop-color="#101010"/><stop offset=".887" stop-color="#000"/><stop offset="1" stop-color="#000"/></linearGradient><linearGradient id="b68" x2="0" y2="1"><stop offset="0" stop-color="#999"/><stop offset=".223" stop-color="#999"/><stop offset=".465" stop-color="#b5b5b5"/><stop offset=".535" stop-color="#b7b7b7"/><stop offset=".613" stop-color="#b5b5b5"/><stop offset=".676" stop-color="#b6b6b6"/><stop offset=".754" stop-color="#bebebe"/><stop offset=".793" stop-color="#bbb"/><stop offset=".809" stop-color="#b8b8b8"/><stop offset=".824" stop-color="#afafaf"/><stop offset=".832" stop-color="#a8a8a8"/><stop offset=".84" stop-color="#9a9a9a"/><stop offset=".848" stop-color="#828282"/><stop offset=".879" stop-color="#0f0f0f"/><stop offset=".887" stop-color="#000"/><stop offset="1" stop-color="#000"/></linearGradient><linearGradient id="b69" x2="0" y2="1"><stop offset="0" stop-color="#959595"/><stop offset=".23" stop-color="#999"/><stop offset=".449" stop-color="#b3b3b3"/><stop offset=".488" stop-color="#b6b6b6"/><stop offset=".535" stop-color="#b8b8b8"/><stop offset=".613" stop-color="#b6b6b6"/><stop offset=".684" stop-color="#b7b7b7"/><stop offset=".754" stop-color="#bebebe"/><stop offset=".793" stop-color="#bbb"/><stop offset=".809" stop-color="#b8b8b8"/><stop offset=".824" stop-color="#afafaf"/><stop offset=".832" stop-color="#a7a7a7"/><stop offset=".84" stop-color="#999"/><stop offset=".848" stop-color="#818181"/><stop offset=".879" stop-color="#0e0e0e"/><stop offset=".887" stop-color="#000"/><stop offset="1" stop-color="#000"/></linearGradient><linearGradient id="b70" x2="0" y2="1"><stop offset="0" stop-color="#919191"/><stop offset=".23" stop-color="#979797"/><stop offset=".457" stop-color="#b4b4b4"/><stop offset=".527" stop-color="#b9b9b9"/><stop offset=".684" stop-color="#b8b8b8"/><stop offset=".754" stop-color="#bebebe"/><stop offset=".793" stop-color="#bbb"/><stop offset=".809" stop-color="#b8b8b8"/><stop offset=".824" stop-color="#aeaeae"/><stop offset=".832" stop-color="#a6a6a6"/><stop offset=".84" stop-color="#989898"/><stop offset=".848" stop-color="#808080"/><stop offset=".879" stop-color="#0d0d0d"/><stop offset=".887" stop-color="#000"/><stop offset="1" stop-color="#000"/></linearGradient><linearGradient id="b71" x2="0" y2="1"><stop offset="0" stop-color="#8a8a8a"/><stop offset=".23" stop-color="#949494"/><stop offset=".48" stop-color="#b6b6b6"/><stop offset=".543" stop-color="#b9b9b9"/><stop offset=".684" stop-color="#b9b9b9"/><stop offset=".754" stop-color="#bdbdbd"/><stop offset=".793" stop-color="#bababa"/><stop offset=".809" stop-color="#b7b7b7"/><stop offset=".824" stop-color="#aeaeae"/><stop offset=".832" stop-color="#a5a5a5"/><stop offset=".84" stop-color="#979797"/><stop offset=".848" stop-color="#7f7f7f"/><stop offset=".879" stop-color="#0c0c0c"/><stop offset=".887" stop-color="#000"/><stop offset="1" stop-color="#000"/></linearGradient><linearGradient id="b72" x2="0" y2="1"><stop offset="0" stop-color="#7f7f7f"/><stop offset=".246" stop-color="#909090"/><stop offset=".363" stop-color="#9e9e9e"/><stop offset=".449" stop-color="#b2b2b2"/><stop offset=".473" stop-color="#b5b5b5"/><stop offset=".535" stop-color="#b8b8b8"/><stop offset=".629" stop-color="#b7b7b7"/><stop offset=".746" stop-color="#bdbdbd"/><stop offset=".793" stop-color="#b9b9b9"/><stop offset=".809" stop-color="#b6b6b6"/><stop offset=".824" stop-color="#acacac"/><stop offset=".832" stop-color="#a4a4a4"/><stop offset=".84" stop-color="#969696"/><stop offset=".848" stop-color="#7e7e7e"/><stop offset=".879" stop-color="#0b0b0b"/><stop offset=".887" stop-color="#000"/><stop offset="1" stop-color="#000"/></linearGradient><linearGradient id="b73" x2="0" y2="1"><stop offset="0" stop-color="#6f6f6f"/><stop offset=".23" stop-color="#808080"/><stop offset=".363" stop-color="#969696"/><stop offset=".465" stop-color="#afafaf"/><stop offset=".52" stop-color="#b5b5b5"/><stop offset=".621" stop-color="#b7b7b7"/><stop offset=".746" stop-color="#bcbcbc"/><stop offset=".785" stop-color="#b9b9b9"/><stop offset=".809" stop-color="#b5b5b5"/><stop offset=".824" stop-color="#ababab"/><stop offset=".832" stop-color="#a3a3a3"/><stop offset=".84" stop-color="#959595"/><stop offset=".848" stop-color="#7d7d7d"/><stop offset=".879" stop-color="#0a0a0a"/><stop offset=".887" stop-color="#000"/><stop offset="1" stop-color="#000"/></linearGradient><linearGradient id="b74" x2="0" y2="1"><stop offset="0" stop-color="#5f5f5f"/><stop offset=".23" stop-color="#6f6f6f"/><stop offset=".363" stop-color="#8f8f8f"/><stop offset=".457" stop-color="#a8a8a8"/><stop offset=".535" stop-color="#b5b5b5"/><stop offset=".762" stop-color="#bbb"/><stop offset=".809" stop-color="#b3b3b3"/><stop offset=".824" stop-color="#aaa"/><stop offset=".832" stop-color="#a2a2a2"/><stop offset=".84" stop-color="#949494"/><stop offset=".848" stop-color="#7c7c7c"/><stop offset=".879" stop-color="#090909"/><stop offset=".887" stop-color="#000"/><stop offset="1" stop-color="#000"/></linearGradient><linearGradient id="b75" x2="0" y2="1"><stop offset="0" stop-color="#3f3f3f"/><stop offset=".23" stop-color="#585858"/><stop offset=".535" stop-color="#b3b3b3"/><stop offset=".754" stop-color="#bbb"/><stop offset=".793" stop-color="#b6b6b6"/><stop offset=".809" stop-color="#b2b2b2"/><stop offset=".824" stop-color="#a9a9a9"/><stop offset=".832" stop-color="#a1a1a1"/><stop offset=".84" stop-color="#939393"/><stop offset=".848" stop-color="#7b7b7b"/><stop offset=".879" stop-color="#080808"/><stop offset=".887" stop-color="#000"/><stop offset="1" stop-color="#000"/></linearGradient><linearGradient id="b76" x2="0" y2="1"><stop offset="0" stop-color="#131313"/><stop offset=".02" stop-color="#151515"/><stop offset=".23" stop-color="#3b3b3b"/><stop offset=".371" stop-color="#707070"/><stop offset=".535" stop-color="#aaa"/><stop offset=".668" stop-color="#b7b7b7"/><stop offset=".746" stop-color="#bbb"/><stop offset=".801" stop-color="#b3b3b3"/><stop offset=".816" stop-color="#adadad"/><stop offset=".832" stop-color="#a0a0a0"/><stop offset=".84" stop-color="#929292"/><stop offset=".848" stop-color="#7a7a7a"/><stop offset=".879" stop-color="#070707"/><stop offset=".887" stop-color="#000"/><stop offset="1" stop-color="#000"/></linearGradient><linearGradient id="b77" x2="0" y2="1"><stop offset="0" stop-color="#000"/><stop offset=".074" stop-color="#010101"/><stop offset=".223" stop-color="#1a1a1a"/><stop offset=".246" stop-color="#232323"/><stop offset=".363" stop-color="#5a5a5a"/><stop offset=".441" stop-color="#7c7c7c"/><stop offset=".535" stop-color="#a0a0a0"/><stop offset=".676" stop-color="#b6b6b6"/><stop offset=".746" stop-color="#bababa"/><stop offset=".801" stop-color="#b2b2b2"/><stop offset=".816" stop-color="#acacac"/><stop offset=".832" stop-color="#9f9f9f"/><stop offset=".84" stop-color="#909090"/><stop offset=".848" stop-color="#797979"/><stop offset=".879" stop-color="#060606"/><stop offset=".887" stop-color="#000"/><stop offset="1" stop-color="#000"/></linearGradient><linearGradient id="b78" x2="0" y2="1"><stop offset="0" stop-color="#000"/><stop offset=".223" stop-color="#000"/><stop offset=".23" stop-color="#020202"/><stop offset=".355" stop-color="#3e3e3e"/><stop offset=".449" stop-color="#737373"/><stop offset=".48" stop-color="#808080"/><stop offset=".543" stop-color="#969696"/><stop offset=".621" stop-color="#ababab"/><stop offset=".691" stop-color="#b7b7b7"/><stop offset=".746" stop-color="#bababa"/><stop offset=".801" stop-color="#b1b1b1"/><stop offset=".816" stop-color="#ababab"/><stop offset=".832" stop-color="#9e9e9e"/><stop offset=".84" stop-color="#8f8f8f"/><stop offset=".848" stop-color="#787878"/><stop offset=".879" stop-color="#050505"/><stop offset=".887" stop-color="#000"/><stop offset="1" stop-color="#000"/></linearGradient><linearGradient id="b79" x2="0" y2="1"><stop offset="0" stop-color="#000"/><stop offset=".277" stop-color="#000"/><stop offset=".363" stop-color="#2a2a2a"/><stop offset=".449" stop-color="#666"/><stop offset=".473" stop-color="#737373"/><stop offset=".629" stop-color="#a8a8a8"/><stop offset=".691" stop-color="#b6b6b6"/><stop offset=".738" stop-color="#b8b8b8"/><stop offset=".762" stop-color="#b7b7b7"/><stop offset=".801" stop-color="#b0b0b0"/><stop offset=".816" stop-color="#a9a9a9"/><stop offset=".832" stop-color="#9c9c9c"/><stop offset=".84" stop-color="#8e8e8e"/><stop offset=".848" stop-color="#777"/><stop offset=".879" stop-color="#040404"/><stop offset=".887" stop-color="#000"/><stop offset="1" stop-color="#000"/></linearGradient><linearGradient id="b80" x2="0" y2="1"><stop offset="0" stop-color="#000"/><stop offset=".324" stop-color="#000"/><stop offset=".348" stop-color="#0a0a0a"/><stop offset=".371" stop-color="#181818"/><stop offset=".449" stop-color="#5a5a5a"/><stop offset=".473" stop-color="#696969"/><stop offset=".605" stop-color="#9a9a9a"/><stop offset=".676" stop-color="#b0b0b0"/><stop offset=".699" stop-color="#b5b5b5"/><stop offset=".746" stop-color="#b6b6b6"/><stop offset=".801" stop-color="#aeaeae"/><stop offset=".816" stop-color="#a7a7a7"/><stop offset=".832" stop-color="#9a9a9a"/><stop offset=".84" stop-color="#8c8c8c"/><stop offset=".848" stop-color="#767676"/><stop offset=".879" stop-color="#030303"/><stop offset=".887" stop-color="#000"/><stop offset="1" stop-color="#000"/></linearGradient><linearGradient id="b81" x2="0" y2="1"><stop offset="0" stop-color="#000"/><stop offset=".363" stop-color="#000"/><stop offset=".379" stop-color="#0b0b0b"/><stop offset=".457" stop-color="#515151"/><stop offset=".48" stop-color="#5f5f5f"/><stop offset=".543" stop-color="#7b7b7b"/><stop offset=".684" stop-color="#afafaf"/><stop offset=".699" stop-color="#b2b2b2"/><stop offset=".746" stop-color="#b4b4b4"/><stop offset=".801" stop-color="#acacac"/><stop offset=".816" stop-color="#a5a5a5"/><stop offset=".832" stop-color="#989898"/><stop offset=".84" stop-color="#8a8a8a"/><stop offset=".848" stop-color="#757575"/><stop offset=".879" stop-color="#020202"/><stop offset=".887" stop-color="#000"/><stop offset="1" stop-color="#000"/></linearGradient><linearGradient id="b82" x2="0" y2="1"><stop offset="0" stop-color="#000"/><stop offset=".387" stop-color="#000"/><stop offset=".395" stop-color="#040404"/><stop offset=".449" stop-color="#383838"/><stop offset=".465" stop-color="#454545"/><stop offset=".535" stop-color="#6f6f6f"/><stop offset=".684" stop-color="#acacac"/><stop offset=".699" stop-color="#b0b0b0"/><stop offset=".746" stop-color="#b2b2b2"/><stop offset=".801" stop-color="#aaa"/><stop offset=".816" stop-color="#a3a3a3"/><stop offset=".832" stop-color="#959595"/><stop offset=".84" stop-color="#898989"/><stop offset=".848" stop-color="#737373"/><stop offset=".879" stop-color="#010101"/><stop offset="1" stop-color="#000"/></linearGradient><linearGradient id="b83" x2="0" y2="1"><stop offset="0" stop-color="#000"/><stop offset=".41" stop-color="#000"/><stop offset=".418" stop-color="#060606"/><stop offset=".465" stop-color="#343434"/><stop offset=".543" stop-color="#6a6a6a"/><stop offset=".684" stop-color="#a9a9a9"/><stop offset=".699" stop-color="#adadad"/><stop offset=".746" stop-color="#b0b0b0"/><stop offset=".801" stop-color="#a8a8a8"/><stop offset=".816" stop-color="#a0a0a0"/><stop offset=".832" stop-color="#939393"/><stop offset=".84" stop-color="#878787"/><stop offset=".848" stop-color="#727272"/><stop offset=".855" stop-color="#575757"/><stop offset=".879" stop-color="#010101"/><stop offset="1" stop-color="#000"/></linearGradient><linearGradient id="b84" x2="0" y2="1"><stop offset="0" stop-color="#000"/><stop offset=".426" stop-color="#000"/><stop offset=".434" stop-color="#030303"/><stop offset=".457" stop-color="#1d1d1d"/><stop offset=".473" stop-color="#2b2b2b"/><stop offset=".527" stop-color="#575757"/><stop offset=".543" stop-color="#616161"/><stop offset=".691" stop-color="#a6a6a6"/><stop offset=".754" stop-color="#aeaeae"/><stop offset=".801" stop-color="#a6a6a6"/><stop offset=".816" stop-color="#9e9e9e"/><stop offset=".832" stop-color="#919191"/><stop offset=".84" stop-color="#858585"/><stop offset=".848" stop-color="#727272"/><stop offset=".855" stop-color="#575757"/><stop offset=".879" stop-color="#010101"/><stop offset="1" stop-color="#000"/></linearGradient><linearGradient id="b85" x2="0" y2="1"><stop offset="0" stop-color="#000"/><stop offset=".441" stop-color="#000"/><stop offset=".449" stop-color="#020202"/><stop offset=".473" stop-color="#1b1b1b"/><stop offset=".512" stop-color="#3d3d3d"/><stop offset=".535" stop-color="#515151"/><stop offset=".551" stop-color="#5b5b5b"/><stop offset=".613" stop-color="#7c7c7c"/><stop offset=".684" stop-color="#9e9e9e"/><stop offset=".707" stop-color="#a5a5a5"/><stop offset=".754" stop-color="#acacac"/><stop offset=".793" stop-color="#a5a5a5"/><stop offset=".809" stop-color="#a0a0a0"/><stop offset=".824" stop-color="#969696"/><stop offset=".832" stop-color="#8e8e8e"/><stop offset=".84" stop-color="#848484"/><stop offset=".848" stop-color="#717171"/><stop offset=".855" stop-color="#575757"/><stop offset=".879" stop-color="#010101"/><stop offset="1" stop-color="#000"/></linearGradient><linearGradient id="b86" x2="0" y2="1"><stop offset="0" stop-color="#000"/><stop offset=".465" stop-color="#010101"/><stop offset=".535" stop-color="#454545"/><stop offset=".605" stop-color="#717171"/><stop offset=".691" stop-color="#9c9c9c"/><stop offset=".754" stop-color="#a9a9a9"/><stop offset=".793" stop-color="#a3a3a3"/><stop offset=".809" stop-color="#9e9e9e"/><stop offset=".824" stop-color="#939393"/><stop offset=".84" stop-color="#828282"/><stop offset=".848" stop-color="#707070"/><stop offset=".855" stop-color="#575757"/><stop offset=".879" stop-color="#010101"/><stop offset="1" stop-color="#000"/></linearGradient><linearGradient id="b87" x2="0" y2="1"><stop offset="0" stop-color="#000"/><stop offset=".48" stop-color="#000"/><stop offset=".543" stop-color="#3f3f3f"/><stop offset=".613" stop-color="#707070"/><stop offset=".691" stop-color="#979797"/><stop offset=".754" stop-color="#a6a6a6"/><stop offset=".793" stop-color="#a0a0a0"/><stop offset=".809" stop-color="#9b9b9b"/><stop offset=".824" stop-color="#909090"/><stop offset=".84" stop-color="#7f7f7f"/><stop offset=".848" stop-color="#6f6f6f"/><stop offset=".855" stop-color="#575757"/><stop offset=".879" stop-color="#010101"/><stop offset="1" stop-color="#000"/></linearGradient><linearGradient id="b88" x2="0" y2="1"><stop offset="0" stop-color="#000"/><stop offset=".496" stop-color="#000"/><stop offset=".543" stop-color="#353535"/><stop offset=".613" stop-color="#6b6b6b"/><stop offset=".691" stop-color="#929292"/><stop offset=".754" stop-color="#a2a2a2"/><stop offset=".793" stop-color="#9d9d9d"/><stop offset=".809" stop-color="#989898"/><stop offset=".824" stop-color="#8d8d8d"/><stop offset=".84" stop-color="#7d7d7d"/><stop offset=".848" stop-color="#6e6e6e"/><stop offset=".855" stop-color="#575757"/><stop offset=".879" stop-color="#010101"/><stop offset="1" stop-color="#000"/></linearGradient><linearGradient id="b89" x2="0" y2="1"><stop offset="0" stop-color="#000"/><stop offset=".504" stop-color="#000"/><stop offset=".512" stop-color="#030303"/><stop offset=".535" stop-color="#222"/><stop offset=".551" stop-color="#323232"/><stop offset=".605" stop-color="#606060"/><stop offset=".621" stop-color="#6b6b6b"/><stop offset=".691" stop-color="#8e8e8e"/><stop offset=".754" stop-color="#9f9f9f"/><stop offset=".785" stop-color="#9b9b9b"/><stop offset=".809" stop-color="#949494"/><stop offset=".824" stop-color="#898989"/><stop offset=".84" stop-color="#7a7a7a"/><stop offset=".848" stop-color="#6d6d6d"/><stop offset=".855" stop-color="#565656"/><stop offset=".879" stop-color="#010101"/><stop offset="1" stop-color="#000"/></linearGradient><linearGradient id="b90" x2="0" y2="1"><stop offset="0" stop-color="#000"/><stop offset=".52" stop-color="#010101"/><stop offset=".535" stop-color="#171717"/><stop offset=".551" stop-color="#292929"/><stop offset=".605" stop-color="#5a5a5a"/><stop offset=".621" stop-color="#666"/><stop offset=".691" stop-color="#8a8a8a"/><stop offset=".754" stop-color="#9c9c9c"/><stop offset=".785" stop-color="#989898"/><stop offset=".809" stop-color="#909090"/><stop offset=".824" stop-color="#868686"/><stop offset=".84" stop-color="#787878"/><stop offset=".848" stop-color="#6b6b6b"/><stop offset=".855" stop-color="#565656"/><stop offset=".879" stop-color="#010101"/><stop offset="1" stop-color="#000"/></linearGradient><linearGradient id="b91" x2="0" y2="1"><stop offset="0" stop-color="#000"/><stop offset=".527" stop-color="#000"/><stop offset=".535" stop-color="#0c0c0c"/><stop offset=".551" stop-color="#1f1f1f"/><stop offset=".605" stop-color="#535353"/><stop offset=".621" stop-color="#606060"/><stop offset=".691" stop-color="#878787"/><stop offset=".754" stop-color="#989898"/><stop offset=".801" stop-color="#909090"/><stop offset=".816" stop-color="#888"/><stop offset=".84" stop-color="#757575"/><stop offset=".848" stop-color="#6a6a6a"/><stop offset=".855" stop-color="#565656"/><stop offset=".879" stop-color="#010101"/><stop offset="1" stop-color="#000"/></linearGradient><linearGradient id="b92" x2="0" y2="1"><stop offset="0" stop-color="#000"/><stop offset=".535" stop-color="#000"/><stop offset=".559" stop-color="#1c1c1c"/><stop offset=".605" stop-color="#4c4c4c"/><stop offset=".621" stop-color="#595959"/><stop offset=".691" stop-color="#838383"/><stop offset=".73" stop-color="#8f8f8f"/><stop offset=".754" stop-color="#949494"/><stop offset=".801" stop-color="#8d8d8d"/><stop offset=".816" stop-color="#858585"/><stop offset=".84" stop-color="#747474"/><stop offset=".848" stop-color="#696969"/><stop offset=".855" stop-color="#555"/><stop offset=".879" stop-color="#010101"/><stop offset="1" stop-color="#000"/></linearGradient><linearGradient id="b93" x2="0" y2="1"><stop offset="0" stop-color="#000"/><stop offset=".543" stop-color="#000"/><stop offset=".605" stop-color="#444"/><stop offset=".629" stop-color="#585858"/><stop offset=".691" stop-color="#808080"/><stop offset=".723" stop-color="#898989"/><stop offset=".754" stop-color="#909090"/><stop offset=".801" stop-color="#898989"/><stop offset=".816" stop-color="#828282"/><stop offset=".84" stop-color="#727272"/><stop offset=".848" stop-color="#686868"/><stop offset=".855" stop-color="#555"/><stop offset=".863" stop-color="#3b3b3b"/><stop offset=".879" stop-color="#010101"/><stop offset="1" stop-color="#000"/></linearGradient><linearGradient id="b94" x2="0" y2="1"><stop offset="0" stop-color="#000"/><stop offset=".551" stop-color="#000"/><stop offset=".559" stop-color="#050505"/><stop offset=".613" stop-color="#454545"/><stop offset=".629" stop-color="#525252"/><stop offset=".668" stop-color="#6d6d6d"/><stop offset=".699" stop-color="#7f7f7f"/><stop offset=".754" stop-color="#8c8c8c"/><stop offset=".801" stop-color="#858585"/><stop offset=".816" stop-color="#7f7f7f"/><stop offset=".84" stop-color="#707070"/><stop offset=".848" stop-color="#676767"/><stop offset=".855" stop-color="#555"/><stop offset=".863" stop-color="#3b3b3b"/><stop offset=".879" stop-color="#020202"/><stop offset="1" stop-color="#000"/></linearGradient><linearGradient id="b95" x2="0" y2="1"><stop offset="0" stop-color="#000"/><stop offset=".559" stop-color="#000"/><stop offset=".566" stop-color="#010101"/><stop offset=".605" stop-color="#343434"/><stop offset=".621" stop-color="#454545"/><stop offset=".676" stop-color="#6f6f6f"/><stop offset=".699" stop-color="#7c7c7c"/><stop offset=".754" stop-color="#888"/><stop offset=".785" stop-color="#858585"/><stop offset=".809" stop-color="#7f7f7f"/><stop offset=".84" stop-color="#6e6e6e"/><stop offset=".848" stop-color="#666"/><stop offset=".855" stop-color="#555"/><stop offset=".863" stop-color="#3b3b3b"/><stop offset=".879" stop-color="#020202"/><stop offset=".887" stop-color="#000"/><stop offset="1" stop-color="#000"/></linearGradient><linearGradient id="b96" x2="0" y2="1"><stop offset="0" stop-color="#000"/><stop offset=".574" stop-color="#000"/><stop offset=".605" stop-color="#2c2c2c"/><stop offset=".621" stop-color="#3f3f3f"/><stop offset=".684" stop-color="#707070"/><stop offset=".707" stop-color="#7b7b7b"/><stop offset=".754" stop-color="#848484"/><stop offset=".809" stop-color="#7c7c7c"/><stop offset=".84" stop-color="#6c6c6c"/><stop offset=".848" stop-color="#656565"/><stop offset=".855" stop-color="#545454"/><stop offset=".863" stop-color="#3b3b3b"/><stop offset=".879" stop-color="#020202"/><stop offset=".887" stop-color="#000"/><stop offset="1" stop-color="#000"/></linearGradient><linearGradient id="b97" x2="0" y2="1"><stop offset="0" stop-color="#000"/><stop offset=".582" stop-color="#010101"/><stop offset=".605" stop-color="#252525"/><stop offset=".621" stop-color="#383838"/><stop offset=".684" stop-color="#6d6d6d"/><stop offset=".707" stop-color="#777"/><stop offset=".754" stop-color="#7f7f7f"/><stop offset=".809" stop-color="#797979"/><stop offset=".84" stop-color="#6a6a6a"/><stop offset=".848" stop-color="#636363"/><stop offset=".855" stop-color="#545454"/><stop offset=".863" stop-color="#3b3b3b"/><stop offset=".879" stop-color="#020202"/><stop offset=".887" stop-color="#000"/><stop offset="1" stop-color="#000"/></linearGradient><linearGradient id="b98" x2="0" y2="1"><stop offset="0" stop-color="#000"/><stop offset=".582" stop-color="#000"/><stop offset=".59" stop-color="#040404"/><stop offset=".605" stop-color="#1d1d1d"/><stop offset=".621" stop-color="#333"/><stop offset=".684" stop-color="#6a6a6a"/><stop offset=".691" stop-color="#6f6f6f"/><stop offset=".707" stop-color="#747474"/><stop offset=".754" stop-color="#7b7b7b"/><stop offset=".809" stop-color="#767676"/><stop offset=".84" stop-color="#686868"/><stop offset=".848" stop-color="#626262"/><stop offset=".855" stop-color="#535353"/><stop offset=".863" stop-color="#3b3b3b"/><stop offset=".879" stop-color="#020202"/><stop offset=".887" stop-color="#000"/><stop offset="1" stop-color="#000"/></linearGradient><linearGradient id="b99" x2="0" y2="1"><stop offset="0" stop-color="#000"/><stop offset=".59" stop-color="#000"/><stop offset=".598" stop-color="#080808"/><stop offset=".613" stop-color="#232323"/><stop offset=".621" stop-color="#2d2d2d"/><stop offset=".684" stop-color="#676767"/><stop offset=".691" stop-color="#6c6c6c"/><stop offset=".707" stop-color="#717171"/><stop offset=".762" stop-color="#777"/><stop offset=".809" stop-color="#737373"/><stop offset=".84" stop-color="#676767"/><stop offset=".848" stop-color="#626262"/><stop offset=".855" stop-color="#535353"/><stop offset=".863" stop-color="#3b3b3b"/><stop offset=".879" stop-color="#020202"/><stop offset=".887" stop-color="#000"/><stop offset="1" stop-color="#000"/></linearGradient><linearGradient id="b100" x2="0" y2="1"><stop offset="0" stop-color="#000"/><stop offset=".598" stop-color="#000"/><stop offset=".613" stop-color="#1c1c1c"/><stop offset=".621" stop-color="#272727"/><stop offset=".684" stop-color="#636363"/><stop offset=".691" stop-color="#696969"/><stop offset=".707" stop-color="#6e6e6e"/><stop offset=".762" stop-color="#727272"/><stop offset=".809" stop-color="#707070"/><stop offset=".84" stop-color="#666"/><stop offset=".848" stop-color="#616161"/><stop offset=".855" stop-color="#535353"/><stop offset=".863" stop-color="#3b3b3b"/><stop offset=".879" stop-color="#020202"/><stop offset=".887" stop-color="#000"/><stop offset="1" stop-color="#000"/></linearGradient><linearGradient id="b101" x2="0" y2="1"><stop offset="0" stop-color="#000"/><stop offset=".598" stop-color="#000"/><stop offset=".605" stop-color="#080808"/><stop offset=".613" stop-color="#161616"/><stop offset=".629" stop-color="#2a2a2a"/><stop offset=".676" stop-color="#595959"/><stop offset=".691" stop-color="#666"/><stop offset=".707" stop-color="#6b6b6b"/><stop offset=".762" stop-color="#6f6f6f"/><stop offset=".809" stop-color="#6d6d6d"/><stop offset=".84" stop-color="#656565"/><stop offset=".848" stop-color="#606060"/><stop offset=".855" stop-color="#535353"/><stop offset=".863" stop-color="#3b3b3b"/><stop offset=".879" stop-color="#020202"/><stop offset=".887" stop-color="#000"/><stop offset="1" stop-color="#000"/></linearGradient><linearGradient id="b102" x2="0" y2="1"><stop offset="0" stop-color="#000"/><stop offset=".605" stop-color="#000"/><stop offset=".613" stop-color="#0f0f0f"/><stop offset=".629" stop-color="#252525"/><stop offset=".676" stop-color="#555"/><stop offset=".691" stop-color="#636363"/><stop offset=".707" stop-color="#686868"/><stop offset=".77" stop-color="#6c6c6c"/><stop offset=".816" stop-color="#696969"/><stop offset=".84" stop-color="#646464"/><stop offset=".848" stop-color="#606060"/><stop offset=".855" stop-color="#535353"/><stop offset=".863" stop-color="#3b3b3b"/><stop offset=".879" stop-color="#020202"/><stop offset=".887" stop-color="#000"/><stop offset="1" stop-color="#000"/></linearGradient><linearGradient id="b103" x2="0" y2="1"><stop offset="0" stop-color="#000"/><stop offset=".605" stop-color="#000"/><stop offset=".613" stop-color="#080808"/><stop offset=".621" stop-color="#151515"/><stop offset=".637" stop-color="#272727"/><stop offset=".676" stop-color="#525252"/><stop offset=".691" stop-color="#5f5f5f"/><stop offset=".699" stop-color="#636363"/><stop offset=".715" stop-color="#656565"/><stop offset=".785" stop-color="#686868"/><stop offset=".824" stop-color="#666"/><stop offset=".84" stop-color="#636363"/><stop offset=".848" stop-color="#5f5f5f"/><stop offset=".855" stop-color="#525252"/><stop offset=".863" stop-color="#3b3b3b"/><stop offset=".879" stop-color="#020202"/><stop offset=".887" stop-color="#000"/><stop offset="1" stop-color="#000"/></linearGradient><linearGradient id="b104" x2="0" y2="1"><stop offset="0" stop-color="#000"/><stop offset=".613" stop-color="#000"/><stop offset=".621" stop-color="#0e0e0e"/><stop offset=".637" stop-color="#212121"/><stop offset=".676" stop-color="#4e4e4e"/><stop offset=".691" stop-color="#5c5c5c"/><stop offset=".707" stop-color="#626262"/><stop offset=".801" stop-color="#676767"/><stop offset=".832" stop-color="#646464"/><stop offset=".848" stop-color="#5f5f5f"/><stop offset=".855" stop-color="#525252"/><stop offset=".863" stop-color="#3b3b3b"/><stop offset=".879" stop-color="#020202"/><stop offset=".887" stop-color="#000"/><stop offset="1" stop-color="#000"/></linearGradient><linearGradient id="b105" x2="0" y2="1"><stop offset="0" stop-color="#000"/><stop offset=".613" stop-color="#000"/><stop offset=".621" stop-color="#060606"/><stop offset=".637" stop-color="#1b1b1b"/><stop offset=".676" stop-color="#494949"/><stop offset=".691" stop-color="#585858"/><stop offset=".707" stop-color="#5e5e5e"/><stop offset=".809" stop-color="#666"/><stop offset=".84" stop-color="#626262"/><stop offset=".848" stop-color="#5e5e5e"/><stop offset=".855" stop-color="#525252"/><stop offset=".863" stop-color="#3b3b3b"/><stop offset=".879" stop-color="#020202"/><stop offset=".887" stop-color="#000"/><stop offset="1" stop-color="#000"/></linearGradient><linearGradient id="b106" x2="0" y2="1"><stop offset="0" stop-color="#000"/><stop offset=".621" stop-color="#000"/><stop offset=".676" stop-color="#454545"/><stop offset=".691" stop-color="#545454"/><stop offset=".707" stop-color="#5a5a5a"/><stop offset=".809" stop-color="#656565"/><stop offset=".84" stop-color="#616161"/><stop offset=".848" stop-color="#5e5e5e"/><stop offset=".855" stop-color="#525252"/><stop offset=".863" stop-color="#3b3b3b"/><stop offset=".879" stop-color="#030303"/><stop offset=".887" stop-color="#000"/><stop offset="1" stop-color="#000"/></linearGradient><linearGradient id="b107" x2="0" y2="1"><stop offset="0" stop-color="#000"/><stop offset=".621" stop-color="#000"/><stop offset=".629" stop-color="#070707"/><stop offset=".684" stop-color="#4a4a4a"/><stop offset=".699" stop-color="#555"/><stop offset=".809" stop-color="#646464"/><stop offset=".84" stop-color="#616161"/><stop offset=".848" stop-color="#5d5d5d"/><stop offset=".855" stop-color="#525252"/><stop offset=".863" stop-color="#3b3b3b"/><stop offset=".879" stop-color="#030303"/><stop offset=".887" stop-color="#000"/><stop offset="1" stop-color="#000"/></linearGradient><linearGradient id="b108" x2="0" y2="1"><stop offset="0" stop-color="#000"/><stop offset=".621" stop-color="#000"/><stop offset=".629" stop-color="#030303"/><stop offset=".684" stop-color="#464646"/><stop offset=".699" stop-color="#515151"/><stop offset=".809" stop-color="#636363"/><stop offset=".84" stop-color="#606060"/><stop offset=".848" stop-color="#5d5d5d"/><stop offset=".855" stop-color="#515151"/><stop offset=".863" stop-color="#3b3b3b"/><stop offset=".879" stop-color="#030303"/><stop offset=".887" stop-color="#000"/><stop offset="1" stop-color="#000"/></linearGradient><linearGradient id="b109" x2="0" y2="1"><stop offset="0" stop-color="#000"/><stop offset=".629" stop-color="#000"/><stop offset=".684" stop-color="#424242"/><stop offset=".699" stop-color="#4e4e4e"/><stop offset=".754" stop-color="#595959"/><stop offset=".809" stop-color="#626262"/><stop offset=".84" stop-color="#5f5f5f"/><stop offset=".848" stop-color="#5c5c5c"/><stop offset=".855" stop-color="#515151"/><stop offset=".863" stop-color="#3b3b3b"/><stop offset=".879" stop-color="#030303"/><stop offset=".887" stop-color="#000"/><stop offset="1" stop-color="#000"/></linearGradient><linearGradient id="b110" x2="0" y2="1"><stop offset="0" stop-color="#000"/><stop offset=".629" stop-color="#000"/><stop offset=".637" stop-color="#050505"/><stop offset=".684" stop-color="#3e3e3e"/><stop offset=".699" stop-color="#4a4a4a"/><stop offset=".762" stop-color="#595959"/><stop offset=".816" stop-color="#616161"/><stop offset=".84" stop-color="#5f5f5f"/><stop offset=".848" stop-color="#5c5c5c"/><stop offset=".855" stop-color="#515151"/><stop offset=".863" stop-color="#3b3b3b"/><stop offset=".879" stop-color="#030303"/><stop offset=".887" stop-color="#000"/><stop offset="1" stop-color="#000"/></linearGradient><linearGradient id="b111" x2="0" y2="1"><stop offset="0" stop-color="#000"/><stop offset=".637" stop-color="#010101"/><stop offset=".684" stop-color="#3a3a3a"/><stop offset=".699" stop-color="#474747"/><stop offset=".754" stop-color="#565656"/><stop offset=".801" stop-color="#5f5f5f"/><stop offset=".816" stop-color="#606060"/><stop offset=".84" stop-color="#5e5e5e"/><stop offset=".848" stop-color="#5b5b5b"/><stop offset=".855" stop-color="#515151"/><stop offset=".863" stop-color="#3b3b3b"/><stop offset=".879" stop-color="#030303"/><stop offset=".887" stop-color="#000"/><stop offset="1" stop-color="#000"/></linearGradient><linearGradient id="b112" x2="0" y2="1"><stop offset="0" stop-color="#000"/><stop offset=".637" stop-color="#000"/><stop offset=".645" stop-color="#060606"/><stop offset=".684" stop-color="#373737"/><stop offset=".699" stop-color="#434343"/><stop offset=".754" stop-color="#545454"/><stop offset=".801" stop-color="#5e5e5e"/><stop offset=".816" stop-color="#5f5f5f"/><stop offset=".84" stop-color="#5d5d5d"/><stop offset=".848" stop-color="#5b5b5b"/><stop offset=".855" stop-color="#505050"/><stop offset=".863" stop-color="#3b3b3b"/><stop offset=".879" stop-color="#030303"/><stop offset=".887" stop-color="#000"/><stop offset="1" stop-color="#000"/></linearGradient><linearGradient id="b113" x2="0" y2="1"><stop offset="0" stop-color="#000"/><stop offset=".637" stop-color="#000"/><stop offset=".645" stop-color="#030303"/><stop offset=".684" stop-color="#333"/><stop offset=".699" stop-color="#404040"/><stop offset=".754" stop-color="#535353"/><stop offset=".793" stop-color="#5b5b5b"/><stop offset=".816" stop-color="#5e5e5e"/><stop offset=".84" stop-color="#5c5c5c"/><stop offset=".848" stop-color="#5a5a5a"/><stop offset=".855" stop-color="#505050"/><stop offset=".863" stop-color="#3b3b3b"/><stop offset=".879" stop-color="#030303"/><stop offset=".887" stop-color="#000"/><stop offset="1" stop-color="#000"/></linearGradient><linearGradient id="b114" x2="0" y2="1"><stop offset="0" stop-color="#000"/><stop offset=".645" stop-color="#000"/><stop offset=".684" stop-color="#2f2f2f"/><stop offset=".699" stop-color="#3c3c3c"/><stop offset=".754" stop-color="#515151"/><stop offset=".793" stop-color="#5a5a5a"/><stop offset=".816" stop-color="#5d5d5d"/><stop offset=".848" stop-color="#595959"/><stop offset=".855" stop-color="#505050"/><stop offset=".863" stop-color="#3b3b3b"/><stop offset=".879" stop-color="#030303"/><stop offset=".887" stop-color="#000"/><stop offset="1" stop-color="#000"/></linearGradient><linearGradient id="b115" x2="0" y2="1"><stop offset="0" stop-color="#000"/><stop offset=".645" stop-color="#000"/><stop offset=".652" stop-color="#050505"/><stop offset=".684" stop-color="#2c2c2c"/><stop offset=".699" stop-color="#393939"/><stop offset=".754" stop-color="#505050"/><stop offset=".793" stop-color="#595959"/><stop offset=".816" stop-color="#5c5c5c"/><stop offset=".848" stop-color="#595959"/><stop offset=".855" stop-color="#4f4f4f"/><stop offset=".863" stop-color="#3b3b3b"/><stop offset=".879" stop-color="#030303"/><stop offset=".887" stop-color="#000"/><stop offset="1" stop-color="#000"/></linearGradient><linearGradient id="b116" x2="0" y2="1"><stop offset="0" stop-color="#000"/><stop offset=".652" stop-color="#010101"/><stop offset=".684" stop-color="#282828"/><stop offset=".699" stop-color="#363636"/><stop offset=".754" stop-color="#4e4e4e"/><stop offset=".793" stop-color="#585858"/><stop offset=".816" stop-color="#5b5b5b"/><stop offset=".848" stop-color="#585858"/><stop offset=".855" stop-color="#4f4f4f"/><stop offset=".863" stop-color="#3b3b3b"/><stop offset=".879" stop-color="#030303"/><stop offset=".887" stop-color="#000"/><stop offset="1" stop-color="#000"/></linearGradient><linearGradient id="b117" x2="0" y2="1"><stop offset="0" stop-color="#000"/><stop offset=".652" stop-color="#000"/><stop offset=".66" stop-color="#070707"/><stop offset=".691" stop-color="#2c2c2c"/><stop offset=".707" stop-color="#373737"/><stop offset=".762" stop-color="#505050"/><stop offset=".801" stop-color="#595959"/><stop offset=".816" stop-color="#5b5b5b"/><stop offset=".848" stop-color="#575757"/><stop offset=".855" stop-color="#4f4f4f"/><stop offset=".863" stop-color="#3b3b3b"/><stop offset=".879" stop-color="#030303"/><stop offset=".887" stop-color="#000"/><stop offset="1" stop-color="#000"/></linearGradient><linearGradient id="b118" x2="0" y2="1"><stop offset="0" stop-color="#000"/><stop offset=".652" stop-color="#000"/><stop offset=".66" stop-color="#030303"/><stop offset=".691" stop-color="#292929"/><stop offset=".707" stop-color="#343434"/><stop offset=".762" stop-color="#4e4e4e"/><stop offset=".801" stop-color="#585858"/><stop offset=".816" stop-color="#5a5a5a"/><stop offset=".848" stop-color="#575757"/><stop offset=".855" stop-color="#4e4e4e"/><stop offset=".863" stop-color="#3a3a3a"/><stop offset=".879" stop-color="#040404"/><stop offset=".887" stop-color="#000"/><stop offset="1" stop-color="#000"/></linearGradient><linearGradient id="b119" x2="0" y2="1"><stop offset="0" stop-color="#000"/><stop offset=".66" stop-color="#000"/><stop offset=".691" stop-color="#252525"/><stop offset=".715" stop-color="#363636"/><stop offset=".762" stop-color="#4d4d4d"/><stop offset=".801" stop-color="#575757"/><stop offset=".816" stop-color="#595959"/><stop offset=".848" stop-color="#565656"/><stop offset=".855" stop-color="#4e4e4e"/><stop offset=".863" stop-color="#3a3a3a"/><stop offset=".879" stop-color="#040404"/><stop offset=".887" stop-color="#000"/><stop offset="1" stop-color="#000"/></linearGradient><linearGradient id="b120" x2="0" y2="1"><stop offset="0" stop-color="#000"/><stop offset=".66" stop-color="#000"/><stop offset=".668" stop-color="#060606"/><stop offset=".684" stop-color="#191919"/><stop offset=".699" stop-color="#292929"/><stop offset=".738" stop-color="#414141"/><stop offset=".77" stop-color="#4e4e4e"/><stop offset=".801" stop-color="#575757"/><stop offset=".816" stop-color="#585858"/><stop offset=".848" stop-color="#555"/><stop offset=".855" stop-color="#4e4e4e"/><stop offset=".863" stop-color="#3a3a3a"/><stop offset=".879" stop-color="#040404"/><stop offset=".887" stop-color="#000"/><stop offset="1" stop-color="#000"/></linearGradient><linearGradient id="b121" x2="0" y2="1"><stop offset="0" stop-color="#000"/><stop offset=".66" stop-color="#000"/><stop offset=".668" stop-color="#030303"/><stop offset=".684" stop-color="#171717"/><stop offset=".699" stop-color="#262626"/><stop offset=".746" stop-color="#444"/><stop offset=".785" stop-color="#525252"/><stop offset=".816" stop-color="#585858"/><stop offset=".848" stop-color="#555"/><stop offset=".855" stop-color="#4d4d4d"/><stop offset=".863" stop-color="#3a3a3a"/><stop offset=".879" stop-color="#040404"/><stop offset=".887" stop-color="#000"/><stop offset="1" stop-color="#000"/></linearGradient><linearGradient id="b122" x2="0" y2="1"><stop offset="0" stop-color="#000"/><stop offset=".668" stop-color="#000"/><stop offset=".684" stop-color="#151515"/><stop offset=".699" stop-color="#252525"/><stop offset=".746" stop-color="#424242"/><stop offset=".785" stop-color="#515151"/><stop offset=".816" stop-color="#575757"/><stop offset=".848" stop-color="#545454"/><stop offset=".855" stop-color="#4d4d4d"/><stop offset=".863" stop-color="#3a3a3a"/><stop offset=".879" stop-color="#040404"/><stop offset=".887" stop-color="#000"/><stop offset="1" stop-color="#000"/></linearGradient><linearGradient id="b123" x2="0" y2="1"><stop offset="0" stop-color="#000"/><stop offset=".668" stop-color="#000"/><stop offset=".691" stop-color="#1c1c1c"/><stop offset=".699" stop-color="#232323"/><stop offset=".746" stop-color="#414141"/><stop offset=".785" stop-color="#505050"/><stop offset=".816" stop-color="#565656"/><stop offset=".848" stop-color="#545454"/><stop offset=".855" stop-color="#4d4d4d"/><stop offset=".863" stop-color="#3a3a3a"/><stop offset=".879" stop-color="#040404"/><stop offset=".887" stop-color="#000"/><stop offset="1" stop-color="#000"/></linearGradient><linearGradient id="b124" x2="0" y2="1"><stop offset="0" stop-color="#000"/><stop offset=".668" stop-color="#000"/><stop offset=".676" stop-color="#060606"/><stop offset=".691" stop-color="#1a1a1a"/><stop offset=".699" stop-color="#212121"/><stop offset=".746" stop-color="#404040"/><stop offset=".785" stop-color="#4f4f4f"/><stop offset=".816" stop-color="#555"/><stop offset=".848" stop-color="#535353"/><stop offset=".855" stop-color="#4c4c4c"/><stop offset=".863" stop-color="#3a3a3a"/><stop offset=".879" stop-color="#040404"/><stop offset=".887" stop-color="#000"/><stop offset="1" stop-color="#000"/></linearGradient><linearGradient id="b125" x2="0" y2="1"><stop offset="0" stop-color="#000"/><stop offset=".668" stop-color="#000"/><stop offset=".676" stop-color="#040404"/><stop offset=".691" stop-color="#181818"/><stop offset=".699" stop-color="#202020"/><stop offset=".746" stop-color="#3f3f3f"/><stop offset=".762" stop-color="#464646"/><stop offset=".793" stop-color="#505050"/><stop offset=".824" stop-color="#555"/><stop offset=".848" stop-color="#535353"/><stop offset=".855" stop-color="#4c4c4c"/><stop offset=".863" stop-color="#3a3a3a"/><stop offset=".879" stop-color="#040404"/><stop offset=".887" stop-color="#000"/><stop offset="1" stop-color="#000"/></linearGradient><linearGradient id="b126" x2="0" y2="1"><stop offset="0" stop-color="#000"/><stop offset=".668" stop-color="#000"/><stop offset=".676" stop-color="#020202"/><stop offset=".691" stop-color="#161616"/><stop offset=".699" stop-color="#1e1e1e"/><stop offset=".754" stop-color="#424242"/><stop offset=".801" stop-color="#525252"/><stop offset=".824" stop-color="#545454"/><stop offset=".848" stop-color="#525252"/><stop offset=".855" stop-color="#4c4c4c"/><stop offset=".863" stop-color="#3a3a3a"/><stop offset=".879" stop-color="#040404"/><stop offset=".887" stop-color="#000"/><stop offset="1" stop-color="#000"/></linearGradient><linearGradient id="b127" x2="0" y2="1"><stop offset="0" stop-color="#000"/><stop offset=".676" stop-color="#000"/><stop offset=".691" stop-color="#151515"/><stop offset=".699" stop-color="#1c1c1c"/><stop offset=".746" stop-color="#3d3d3d"/><stop offset=".762" stop-color="#444"/><stop offset=".793" stop-color="#4f4f4f"/><stop offset=".824" stop-color="#535353"/><stop offset=".848" stop-color="#525252"/><stop offset=".855" stop-color="#4b4b4b"/><stop offset=".863" stop-color="#3a3a3a"/><stop offset=".879" stop-color="#040404"/><stop offset=".887" stop-color="#000"/><stop offset="1" stop-color="#000"/></linearGradient><linearGradient id="b128" x2="0" y2="1"><stop offset="0" stop-color="#000"/><stop offset=".676" stop-color="#000"/><stop offset=".699" stop-color="#1b1b1b"/><stop offset=".754" stop-color="#404040"/><stop offset=".801" stop-color="#505050"/><stop offset=".824" stop-color="#535353"/><stop offset=".848" stop-color="#515151"/><stop offset=".855" stop-color="#4b4b4b"/><stop offset=".863" stop-color="#3a3a3a"/><stop offset=".879" stop-color="#040404"/><stop offset=".887" stop-color="#000"/><stop offset="1" stop-color="#000"/></linearGradient><linearGradient id="b129" x2="0" y2="1"><stop offset="0" stop-color="#000"/><stop offset=".676" stop-color="#000"/><stop offset=".684" stop-color="#070707"/><stop offset=".699" stop-color="#191919"/><stop offset=".707" stop-color="#1f1f1f"/><stop offset=".754" stop-color="#3f3f3f"/><stop offset=".801" stop-color="#4f4f4f"/><stop offset=".824" stop-color="#525252"/><stop offset=".848" stop-color="#515151"/><stop offset=".855" stop-color="#4b4b4b"/><stop offset=".863" stop-color="#3a3a3a"/><stop offset=".879" stop-color="#040404"/><stop offset=".887" stop-color="#000"/><stop offset="1" stop-color="#000"/></linearGradient></defs><defs><filter id="jetb" filterUnits="userSpaceOnUse" x="33.4" y="147.5" width="259.6" height="128.0" color-interpolation-filters="sRGB"><feComponentTransfer><feFuncR type="table" tableValues="0 0 0 0 0 0 0 0 0 0 0 0 0 0 0 0 0 0 0 0 0 0 0 0 0.039 0.101 0.162 0.224 0.285 0.347 0.408 0.47 0.531 0.593 0.654 0.716 0.777 0.839 0.9 0.962 1 1 1 1 1 1 1 1 1 1 1 1 1 1 1 1 0.992 0.931 0.869 0.808 0.746 0.685 0.623 0.562 0.5"/><feFuncG type="table" tableValues="0 0 0 0 0 0 0 0 0.055 0.116 0.178 0.239 0.301 0.362 0.424 0.485 0.547 0.608 0.67 0.731 0.793 0.854 0.916 0.978 1 1 1 1 1 1 1 1 1 1 1 1 1 1 1 1 0.977 0.915 0.854 0.792 0.73 0.669 0.607 0.546 0.484 0.423 0.361 0.3 0.238 0.177 0.115 0.054 0 0 0 0 0 0 0 0 0"/><feFuncB type="table" tableValues="0.562 0.624 0.686 0.747 0.809 0.87 0.932 0.993 1 1 1 1 1 1 1 1 1 1 1 1 1 1 1 1 0.961 0.899 0.838 0.776 0.715 0.653 0.592 0.53 0.469 0.407 0.346 0.284 0.223 0.161 0.1 0.038 0 0 0 0 0 0 0 0 0 0 0 0 0 0 0 0 0 0 0 0 0 0 0 0 0"/><feFuncA type="linear" slope="0" intercept="1"/></feComponentTransfer></filter><filter id="bb0" filterUnits="userSpaceOnUse" x="0" y="130" width="330" height="170"><feGaussianBlur stdDeviation="1.0 0.4"/></filter><filter id="bb1" filterUnits="userSpaceOnUse" x="0" y="130" width="330" height="170"><feGaussianBlur stdDeviation="1"/></filter><filter id="bb2" filterUnits="userSpaceOnUse" x="0" y="130" width="330" height="170"><feGaussianBlur stdDeviation="0.9"/></filter><filter id="bb4" filterUnits="userSpaceOnUse" x="0" y="130" width="330" height="170"><feGaussianBlur stdDeviation="1.4"/></filter><filter id="bb3" filterUnits="userSpaceOnUse" x="0" y="130" width="330" height="170"><feGaussianBlur stdDeviation="0.6"/></filter><linearGradient id="gfade" gradientUnits="userSpaceOnUse" x1="0" y1="211.5" x2="0" y2="243"><stop offset="0" stop-color="#fff"/><stop offset="1" stop-color="#000"/></linearGradient><mask id="mfade" maskUnits="userSpaceOnUse" x="30" y="140" width="270" height="140"><rect x="30" y="140" width="270" height="140" fill="url(#gfade)"/></mask><linearGradient id="gtop" gradientUnits="userSpaceOnUse" x1="0" y1="162.3" x2="0" y2="211.5"><stop offset="0" stop-color="#fff"/><stop offset="1" stop-color="#000"/></linearGradient><mask id="mtop" maskUnits="userSpaceOnUse" x="30" y="140" width="270" height="140"><rect x="30" y="140" width="270" height="140" fill="url(#gtop)"/></mask></defs><g filter="url(#jetb)"><g filter="url(#bb0)"><rect x="33.4" y="147.5" width="3" height="128.0" fill="url(#b0)"/><rect x="35.4" y="147.5" width="3" height="128.0" fill="url(#b1)"/><rect x="37.39" y="147.5" width="3" height="128.0" fill="url(#b2)"/><rect x="39.39" y="147.5" width="3" height="128.0" fill="url(#b3)"/><rect x="41.39" y="147.5" width="3" height="128.0" fill="url(#b4)"/><rect x="43.38" y="147.5" width="3" height="128.0" fill="url(#b5)"/><rect x="45.38" y="147.5" width="3" height="128.0" fill="url(#b6)"/><rect x="47.38" y="147.5" width="3" height="128.0" fill="url(#b7)"/><rect x="49.38" y="147.5" width="3" height="128.0" fill="url(#b8)"/><rect x="51.37" y="147.5" width="3" height="128.0" fill="url(#b9)"/><rect x="53.37" y="147.5" width="3" height="128.0" fill="url(#b10)"/><rect x="55.37" y="147.5" width="3" height="128.0" fill="url(#b11)"/><rect x="57.36" y="147.5" width="3" height="128.0" fill="url(#b12)"/><rect x="59.36" y="147.5" width="3" height="128.0" fill="url(#b13)"/><rect x="61.36" y="147.5" width="3" height="128.0" fill="url(#b14)"/><rect x="63.35" y="147.5" width="3" height="128.0" fill="url(#b15)"/><rect x="65.35" y="147.5" width="3" height="128.0" fill="url(#b16)"/><rect x="67.35" y="147.5" width="3" height="128.0" fill="url(#b17)"/><rect x="69.34" y="147.5" width="3" height="128.0" fill="url(#b18)"/><rect x="71.34" y="147.5" width="3" height="128.0" fill="url(#b19)"/><rect x="73.34" y="147.5" width="3" height="128.0" fill="url(#b20)"/><rect x="75.34" y="147.5" width="3" height="128.0" fill="url(#b21)"/><rect x="77.33" y="147.5" width="3" height="128.0" fill="url(#b22)"/><rect x="79.33" y="147.5" width="3" height="128.0" fill="url(#b23)"/><rect x="81.33" y="147.5" width="3" height="128.0" fill="url(#b24)"/><rect x="83.32" y="147.5" width="3" height="128.0" fill="url(#b25)"/><rect x="85.32" y="147.5" width="3" height="128.0" fill="url(#b26)"/><rect x="87.32" y="147.5" width="3" height="128.0" fill="url(#b27)"/><rect x="89.31" y="147.5" width="3" height="128.0" fill="url(#b28)"/><rect x="91.31" y="147.5" width="3" height="128.0" fill="url(#b29)"/><rect x="93.31" y="147.5" width="3" height="128.0" fill="url(#b30)"/><rect x="95.3" y="147.5" width="3" height="128.0" fill="url(#b31)"/><rect x="97.3" y="147.5" width="3" height="128.0" fill="url(#b32)"/><rect x="99.3" y="147.5" width="3" height="128.0" fill="url(#b33)"/><rect x="101.3" y="147.5" width="3" height="128.0" fill="url(#b34)"/><rect x="103.29" y="147.5" width="3" height="128.0" fill="url(#b35)"/><rect x="105.29" y="147.5" width="3" height="128.0" fill="url(#b36)"/><rect x="107.29" y="147.5" width="3" height="128.0" fill="url(#b37)"/><rect x="109.28" y="147.5" width="3" height="128.0" fill="url(#b38)"/><rect x="111.28" y="147.5" width="3" height="128.0" fill="url(#b39)"/><rect x="113.28" y="147.5" width="3" height="128.0" fill="url(#b40)"/><rect x="115.27" y="147.5" width="3" height="128.0" fill="url(#b41)"/><rect x="117.27" y="147.5" width="3" height="128.0" fill="url(#b42)"/><rect x="119.27" y="147.5" width="3" height="128.0" fill="url(#b43)"/><rect x="121.26" y="147.5" width="3" height="128.0" fill="url(#b44)"/><rect x="123.26" y="147.5" width="3" height="128.0" fill="url(#b45)"/><rect x="125.26" y="147.5" width="3" height="128.0" fill="url(#b46)"/><rect x="127.26" y="147.5" width="3" height="128.0" fill="url(#b47)"/><rect x="129.25" y="147.5" width="3" height="128.0" fill="url(#b48)"/><rect x="131.25" y="147.5" width="3" height="128.0" fill="url(#b49)"/><rect x="133.25" y="147.5" width="3" height="128.0" fill="url(#b50)"/><rect x="135.24" y="147.5" width="3" height="128.0" fill="url(#b51)"/><rect x="137.24" y="147.5" width="3" height="128.0" fill="url(#b52)"/><rect x="139.24" y="147.5" width="3" height="128.0" fill="url(#b53)"/><rect x="141.23" y="147.5" width="3" height="128.0" fill="url(#b54)"/><rect x="143.23" y="147.5" width="3" height="128.0" fill="url(#b55)"/><rect x="145.23" y="147.5" width="3" height="128.0" fill="url(#b56)"/><rect x="147.22" y="147.5" width="3" height="128.0" fill="url(#b57)"/><rect x="149.22" y="147.5" width="3" height="128.0" fill="url(#b58)"/><rect x="151.22" y="147.5" width="3" height="128.0" fill="url(#b59)"/><rect x="153.22" y="147.5" width="3" height="128.0" fill="url(#b60)"/><rect x="155.21" y="147.5" width="3" height="128.0" fill="url(#b61)"/><rect x="157.21" y="147.5" width="3" height="128.0" fill="url(#b62)"/><rect x="159.21" y="147.5" width="3" height="128.0" fill="url(#b63)"/><rect x="161.2" y="147.5" width="3" height="128.0" fill="url(#b64)"/><rect x="163.2" y="147.5" width="3" height="128.0" fill="url(#b65)"/><rect x="165.2" y="147.5" width="3" height="128.0" fill="url(#b66)"/><rect x="167.19" y="147.5" width="3" height="128.0" fill="url(#b67)"/><rect x="169.19" y="147.5" width="3" height="128.0" fill="url(#b68)"/><rect x="171.19" y="147.5" width="3" height="128.0" fill="url(#b69)"/><rect x="173.18" y="147.5" width="3" height="128.0" fill="url(#b70)"/><rect x="175.18" y="147.5" width="3" height="128.0" fill="url(#b71)"/><rect x="177.18" y="147.5" width="3" height="128.0" fill="url(#b72)"/><rect x="179.18" y="147.5" width="3" height="128.0" fill="url(#b73)"/><rect x="181.17" y="147.5" width="3" height="128.0" fill="url(#b74)"/><rect x="183.17" y="147.5" width="3" height="128.0" fill="url(#b75)"/><rect x="185.17" y="147.5" width="3" height="128.0" fill="url(#b76)"/><rect x="187.16" y="147.5" width="3" height="128.0" fill="url(#b77)"/><rect x="189.16" y="147.5" width="3" height="128.0" fill="url(#b78)"/><rect x="191.16" y="147.5" width="3" height="128.0" fill="url(#b79)"/><rect x="193.15" y="147.5" width="3" height="128.0" fill="url(#b80)"/><rect x="195.15" y="147.5" width="3" height="128.0" fill="url(#b81)"/><rect x="197.15" y="147.5" width="3" height="128.0" fill="url(#b82)"/><rect x="199.14" y="147.5" width="3" height="128.0" fill="url(#b83)"/><rect x="201.14" y="147.5" width="3" height="128.0" fill="url(#b84)"/><rect x="203.14" y="147.5" width="3" height="128.0" fill="url(#b85)"/><rect x="205.14" y="147.5" width="3" height="128.0" fill="url(#b86)"/><rect x="207.13" y="147.5" width="3" height="128.0" fill="url(#b87)"/><rect x="209.13" y="147.5" width="3" height="128.0" fill="url(#b88)"/><rect x="211.13" y="147.5" width="3" height="128.0" fill="url(#b89)"/><rect x="213.12" y="147.5" width="3" height="128.0" fill="url(#b90)"/><rect x="215.12" y="147.5" width="3" height="128.0" fill="url(#b91)"/><rect x="217.12" y="147.5" width="3" height="128.0" fill="url(#b92)"/><rect x="219.11" y="147.5" width="3" height="128.0" fill="url(#b93)"/><rect x="221.11" y="147.5" width="3" height="128.0" fill="url(#b94)"/><rect x="223.11" y="147.5" width="3" height="128.0" fill="url(#b95)"/><rect x="225.1" y="147.5" width="3" height="128.0" fill="url(#b96)"/><rect x="227.1" y="147.5" width="3" height="128.0" fill="url(#b97)"/><rect x="229.1" y="147.5" width="3" height="128.0" fill="url(#b98)"/><rect x="231.1" y="147.5" width="3" height="128.0" fill="url(#b99)"/><rect x="233.09" y="147.5" width="3" height="128.0" fill="url(#b100)"/><rect x="235.09" y="147.5" width="3" height="128.0" fill="url(#b101)"/><rect x="237.09" y="147.5" width="3" height="128.0" fill="url(#b102)"/><rect x="239.08" y="147.5" width="3" height="128.0" fill="url(#b103)"/><rect x="241.08" y="147.5" width="3" height="128.0" fill="url(#b104)"/><rect x="243.08" y="147.5" width="3" height="128.0" fill="url(#b105)"/><rect x="245.07" y="147.5" width="3" height="128.0" fill="url(#b106)"/><rect x="247.07" y="147.5" width="3" height="128.0" fill="url(#b107)"/><rect x="249.07" y="147.5" width="3" height="128.0" fill="url(#b108)"/><rect x="251.06" y="147.5" width="3" height="128.0" fill="url(#b109)"/><rect x="253.06" y="147.5" width="3" height="128.0" fill="url(#b110)"/><rect x="255.06" y="147.5" width="3" height="128.0" fill="url(#b111)"/><rect x="257.06" y="147.5" width="3" height="128.0" fill="url(#b112)"/><rect x="259.05" y="147.5" width="3" height="128.0" fill="url(#b113)"/><rect x="261.05" y="147.5" width="3" height="128.0" fill="url(#b114)"/><rect x="263.05" y="147.5" width="3" height="128.0" fill="url(#b115)"/><rect x="265.04" y="147.5" width="3" height="128.0" fill="url(#b116)"/><rect x="267.04" y="147.5" width="3" height="128.0" fill="url(#b117)"/><rect x="269.04" y="147.5" width="3" height="128.0" fill="url(#b118)"/><rect x="271.03" y="147.5" width="3" height="128.0" fill="url(#b119)"/><rect x="273.03" y="147.5" width="3" height="128.0" fill="url(#b120)"/><rect x="275.03" y="147.5" width="3" height="128.0" fill="url(#b121)"/><rect x="277.02" y="147.5" width="3" height="128.0" fill="url(#b122)"/><rect x="279.02" y="147.5" width="3" height="128.0" fill="url(#b123)"/><rect x="281.02" y="147.5" width="3" height="128.0" fill="url(#b124)"/><rect x="283.02" y="147.5" width="3" height="128.0" fill="url(#b125)"/><rect x="285.01" y="147.5" width="3" height="128.0" fill="url(#b126)"/><rect x="287.01" y="147.5" width="3" height="128.0" fill="url(#b127)"/><rect x="289.01" y="147.5" width="3" height="128.0" fill="url(#b128)"/><rect x="291" y="147.5" width="2" height="128.0" fill="url(#b129)"/></g><g fill="none"><g mask="url(#mfade)"><path d="M63 145.5L63 152.8L63 160.1L63 167.3L63 174.6L63 181.9L63 189.2L63 196.4L63 203.7L63 211L63 218.2L63 225.5L63 232.8L63 240.1" stroke="#000" stroke-opacity="0.62" stroke-width="1.6"/><path d="M72 145.5L72 153.1L72 160.7L72 168.3L72 175.8L72 183.4L72 191L72 198.5L72 206.1L72 213.7L72 221.3L72 228.8L72 236.4L72 244" stroke="#000" stroke-opacity="0.55" stroke-width="1.3"/><path d="M76.3 145.5L76.3 151L76.3 156.4L76.3 161.9L76.3 167.3L76.3 172.8L76.3 178.3L76.3 183.7L76.3 189.2L76.3 194.6L76.4 200.1L76.4 205.5L76.4 211L76.4 216.4" stroke="#000" stroke-opacity="0.45" stroke-width="1.1"/><path d="M149.5 145.5L149.8 152.1L150.6 158.7L151.7 165.3L153 171.9L154.5 178.5L156.2 185.1L158.1 191.7L160.1 198.2L162.2 204.8L164.4 211.4L166.8 218L169.3 224.6L171.9 231.2" stroke="#000" stroke-opacity="0.22" stroke-width="1.3"/><path d="M146 145.5L146.2 151.7L146.9 158L147.9 164.2L149 170.4L150.3 176.6L151.8 182.8L153.3 189L155 195.2L156.9 201.4L158.8 207.6L160.8 213.8L163 220.1L165.2 226.3" stroke="#000" stroke-opacity="0.14" stroke-width="1.3"/><path d="M153.3 145.5L153.5 151.4L154.2 157.2L155.2 163L156.4 168.9L157.7 174.7L159.2 180.5L160.8 186.4L162.6 192.2L164.5 198L166.5 203.9L168.6 209.7L170.8 215.5L173.1 221.3" stroke="#000" stroke-opacity="0.18" stroke-width="1.2"/><path d="M156.7 145.5L156.9 151L157.6 156.4L158.5 161.9L159.6 167.3L160.9 172.8L162.3 178.3L163.9 183.7L165.6 189.2L167.3 194.6L169.2 200.1L171.2 205.5L173.3 211L175.5 216.4" stroke="#000" stroke-opacity="0.1" stroke-width="1.2"/><path d="M104.7 145.5L104.8 151.7L105 158L105.3 164.2L105.7 170.4L106.1 176.6L106.6 182.8L107.1 189L107.6 195.2L108.2 201.4L108.8 207.6L109.5 213.8L110.2 220.1L110.9 226.3" stroke="#000" stroke-opacity="0.42" stroke-width="1.2"/><path d="M140 145.5L140.2 151.7L140.8 158L141.7 164.2L142.7 170.4L143.8 176.6L145.1 182.8L146.5 189L148.1 195.2L149.7 201.4L151.4 207.6L153.2 213.8L155.1 220.1L157.1 226.3" stroke="#000" stroke-opacity="0.1" stroke-width="1.4"/><path d="M94.5 145.5L94.5 151.9L94.7 158.3L94.9 164.7L95.1 171.1L95.3 177.5L95.6 183.8L95.9 190.2L96.3 196.6L96.6 203L97 209.4L97.4 215.8L97.8 222.2L98.2 228.5" stroke="#fff" stroke-opacity=".14" stroke-width="1.5"/><path d="M97.7 145.5L97.8 152.2L97.9 158.8L98.2 165.5L98.5 172.2L98.8 178.8L99.2 185.5L99.6 192.1L100 198.8L100.5 205.5L100.9 212.1L101.5 218.8L102 225.4L102.5 232.1" stroke="#000" stroke-opacity=".11" stroke-width="2.1"/><path d="M100.3 145.5L100.4 152.2L100.6 158.9L100.9 165.6L101.2 172.3L101.6 179L102 185.7L102.5 192.5L103 199.2L103.5 205.9L104.1 212.6L104.7 219.3L105.3 226L106 232.7" stroke="#fff" stroke-opacity=".18" stroke-width="1.7"/><path d="M103.6 145.5L103.7 152.7L104 159.9L104.3 167.1L104.8 174.3L105.3 181.5L105.8 188.7L106.4 195.9L107.1 203.1L107.8 210.3L108.5 217.5L109.3 224.7L110.1 231.9L111 239.1" stroke="#000" stroke-opacity=".08" stroke-width="1.7"/><path d="M107 145.5L107.1 152.3L107.3 159L107.7 165.8L108.2 172.6L108.7 179.3L109.3 186.1L109.9 192.8L110.6 199.6L111.3 206.3L112.1 213.1L112.9 219.9L113.8 226.6L114.7 233.4" stroke="#fff" stroke-opacity=".21" stroke-width="1.6"/><path d="M109.5 145.5L109.6 151.7L109.9 157.9L110.3 164.1L110.7 170.3L111.2 176.5L111.8 182.7L112.4 188.9L113.1 195.1L113.8 201.3L114.5 207.4L115.3 213.6L116.1 219.8L117 226" stroke="#000" stroke-opacity=".08" stroke-width="1.9"/><path d="M112.6 145.5L112.7 152.7L113.1 159.8L113.6 166.9L114.2 174L114.9 181.1L115.7 188.2L116.5 195.4L117.5 202.5L118.4 209.6L119.5 216.7L120.6 223.8L121.7 231L122.9 238.1" stroke="#fff" stroke-opacity=".15" stroke-width="2"/><path d="M115.8 145.5L115.9 152.3L116.3 159L116.8 165.7L117.5 172.5L118.2 179.2L119 186L119.9 192.7L120.8 199.4L121.8 206.2L122.9 212.9L124 219.7L125.2 226.4L126.4 233.1" stroke="#000" stroke-opacity=".07" stroke-width="1.9"/><path d="M134 145.5L134.2 152.3L134.8 159L135.7 165.7L136.7 172.4L137.8 179.2L139.1 185.9L140.5 192.6L142.1 199.4L143.7 206.1L145.4 212.8L147.2 219.5L149.1 226.3L151 233" stroke="#fff" stroke-opacity=".1" stroke-width="1.8"/><path d="M136.9 145.5L137.1 152.4L137.8 159.4L138.8 166.3L139.9 173.2L141.2 180.1L142.6 187L144.1 193.9L145.8 200.8L147.6 207.8L149.5 214.7L151.5 221.6L153.6 228.5L155.8 235.4" stroke="#000" stroke-opacity=".06" stroke-width="2.2"/><path d="M139 145.5L139.2 152.4L139.9 159.3L140.9 166.1L142.1 173L143.4 179.9L144.9 186.8L146.5 193.6L148.2 200.5L150.1 207.4L152 214.2L154.1 221.1L156.3 228L158.5 234.8" stroke="#fff" stroke-opacity=".14" stroke-width="1.9"/><path d="M141.2 145.5L141.4 152L142.1 158.4L143 164.9L144.1 171.3L145.4 177.8L146.8 184.3L148.3 190.7L149.9 197.2L151.7 203.6L153.6 210.1L155.5 216.5L157.6 223L159.7 229.4" stroke="#000" stroke-opacity=".05" stroke-width="1.9"/><path d="M144.2 145.5L144.4 152L145.1 158.4L146.1 164.8L147.2 171.2L148.6 177.7L150 184.1L151.6 190.5L153.4 197L155.2 203.4L157.2 209.8L159.3 216.3L161.4 222.7L163.7 229.1" stroke="#fff" stroke-opacity=".11" stroke-width="1.6"/><path d="M146.5 145.5L146.7 152.2L147.5 158.9L148.6 165.6L149.9 172.2L151.3 178.9L153 185.6L154.7 192.3L156.7 198.9L158.7 205.6L160.9 212.3L163.2 219L165.6 225.7L168.1 232.3" stroke="#000" stroke-opacity=".05" stroke-width="2"/><path d="M148.1 145.5L148.4 152L149.2 158.5L150.2 164.9L151.5 171.4L152.9 177.9L154.5 184.3L156.3 190.8L158.1 197.3L160.2 203.7L162.3 210.2L164.5 216.6L166.9 223.1L169.3 229.6" stroke="#fff" stroke-opacity=".12" stroke-width="1.5"/><path d="M150.8 145.5L151.1 152L151.9 158.5L153 165L154.3 171.5L155.9 178L157.5 184.5L159.4 191L161.4 197.5L163.5 204L165.8 210.5L168.1 217L170.6 223.5L173.2 230" stroke="#000" stroke-opacity=".03" stroke-width="2.4"/><path d="M152.9 145.5L153.3 152.5L154.2 159.5L155.5 166.5L157.1 173.5L158.8 180.6L160.8 187.6L162.9 194.6L165.3 201.6L167.7 208.6L170.3 215.6L173.1 222.6L176 229.6L179 236.6" stroke="#fff" stroke-opacity=".18" stroke-width="2"/><path d="M156 145.5L156.3 152.3L157.3 159L158.5 165.7L160 172.5L161.8 179.2L163.7 185.9L165.9 192.7L168.2 199.4L170.6 206.1L173.2 212.9L175.9 219.6L178.8 226.3L181.8 233.1" stroke="#000" stroke-opacity=".07" stroke-width="2.2"/><path d="M157.9 145.5L158.2 152.3L159.2 159L160.5 165.8L162 172.5L163.9 179.3L165.9 186L168.1 192.7L170.4 199.5L172.9 206.2L175.6 213L178.4 219.7L181.4 226.5L184.5 233.2" stroke="#fff" stroke-opacity=".15" stroke-width="1.7"/><path d="M160.2 145.5L160.6 152.4L161.6 159.3L163 166.2L164.7 173.1L166.7 179.9L168.8 186.8L171.2 193.7L173.7 200.6L176.4 207.5L179.2 214.3L182.3 221.2L185.4 228.1L188.7 235" stroke="#000" stroke-opacity=".04" stroke-width="1.5"/><path d="M162.3 145.5L162.7 152.3L163.8 159.1L165.2 165.9L166.9 172.7L168.9 179.5L171 186.3L173.4 193.1L176 199.9L178.7 206.7L181.6 213.5L184.7 220.3L187.9 227.1L191.2 233.9" stroke="#fff" stroke-opacity=".11" stroke-width="1.6"/></g><g mask="url(#mtop)"><path d="M149.5 145.5L149.7 151L150.3 156.4L151.1 161.9L152.1 167.3L153.2 172.8L154.5 178.3L155.9 183.7L157.4 189.2L158.9 194.6L160.6 200.1L162.4 205.5L164.3 211L166.2 216.4" stroke="#000" stroke-opacity="0.5" stroke-width="1.3"/><path d="M146 145.5L146.2 151L146.7 156.4L147.5 161.9L148.4 167.3L149.5 172.8L150.7 178.3L152 183.7L153.4 189.2L154.9 194.6L156.5 200.1L158.1 205.5L159.9 211L161.7 216.4" stroke="#000" stroke-opacity="0.2" stroke-width="1.2"/><path d="M153.3 145.5L153.5 151L154.1 156.4L155 161.9L156.1 167.3L157.3 172.8L158.6 178.3L160.1 183.7L161.7 189.2L163.4 194.6L165.2 200.1L167.1 205.5L169.1 211L171.1 216.4" stroke="#000" stroke-opacity="0.3" stroke-width="1.2"/><path d="M156.7 145.5L156.9 151L157.6 156.4L158.5 161.9L159.6 167.3L160.9 172.8L162.3 178.3L163.9 183.7L165.6 189.2L167.3 194.6L169.2 200.1L171.2 205.5L173.3 211L175.5 216.4" stroke="#000" stroke-opacity="0.14" stroke-width="1.1"/></g><path d="M77 258.8 V191.8" stroke="#000" stroke-opacity=".3" stroke-width="2.1" stroke-dasharray="0.1 4.6" stroke-linecap="round" filter="url(#bb3)"/><path d="M81.2 252.9 V228.2" stroke="#000" stroke-opacity=".22" stroke-width="2" stroke-dasharray="0.1 4.9" stroke-linecap="round" filter="url(#bb3)"/><ellipse cx="76.4" cy="261.7" rx="1.5" ry="2.6" fill="#000" fill-opacity=".42" filter="url(#bb3)"/><circle cx="58" cy="243" r="1.6" fill="#000" fill-opacity="0.5" filter="url(#bb3)"/><circle cx="57.5" cy="234.1" r="1.5" fill="#000" fill-opacity="0.45" filter="url(#bb3)"/><circle cx="60" cy="226.3" r="1.4" fill="#000" fill-opacity="0.4" filter="url(#bb3)"/><circle cx="54" cy="238.1" r="1.4" fill="#000" fill-opacity="0.3" filter="url(#bb3)"/><circle cx="62.5" cy="217.4" r="1.3" fill="#000" fill-opacity="0.45" filter="url(#bb3)"/><circle cx="68" cy="230.2" r="1.2" fill="#000" fill-opacity="0.3" filter="url(#bb3)"/><circle cx="118" cy="237.1" r="1.5" fill="#000" fill-opacity="0.4" filter="url(#bb3)"/><circle cx="124.5" cy="240.1" r="1.4" fill="#000" fill-opacity="0.35" filter="url(#bb3)"/><circle cx="68.5" cy="244" r="1.3" fill="#000" fill-opacity="0.25" filter="url(#bb3)"/><circle cx="46" cy="237.1" r="1.8" fill="#fff" fill-opacity="0.18" filter="url(#bb3)"/><circle cx="50" cy="230.2" r="1.6" fill="#fff" fill-opacity="0.15" filter="url(#bb3)"/><circle cx="113" cy="232.2" r="1.5" fill="#fff" fill-opacity="0.1" filter="url(#bb3)"/><circle cx="131" cy="233.2" r="1.6" fill="#fff" fill-opacity="0.1" filter="url(#bb3)"/><circle cx="141" cy="236.1" r="1.5" fill="#fff" fill-opacity="0.1" filter="url(#bb3)"/><path d="M84 253.8L85.8 248L87.4 242.2L88.7 236.4L89.8 230.6L90.7 224.8L91.3 219L91.7 213.3L91.9 207.5L92 201.7" stroke="#fff" stroke-opacity="0.07" stroke-width="2.2" filter="url(#bb3)"/><path d="M88 252.9L91 247.2L93.5 241.5L95.7 235.8L97.4 230.1L98.8 224.4L99.8 218.7L100.5 213L100.9 207.3L101 201.7" stroke="#000" stroke-opacity="0.08" stroke-width="2.2" filter="url(#bb3)"/><path d="M96 247.9L100.1 242.8L103.6 237.6L106.6 232.5L109.1 227.4L111 222.2L112.4 217.1L113.3 211.9L113.9 206.8L114 201.7" stroke="#fff" stroke-opacity="0.08" stroke-width="2.4" filter="url(#bb3)"/><path d="M104 247.9L108.1 243.3L111.6 238.7L114.6 234.1L117.1 229.6L119 225L120.4 220.4L121.3 215.8L121.9 211.2L122 206.6" stroke="#000" stroke-opacity="0.08" stroke-width="2.4" filter="url(#bb3)"/><path d="M112 246L116.3 241.6L120.1 237.2L123.2 232.8L125.8 228.5L127.8 224.1L129.3 219.7L130.3 215.3L130.8 211L131 206.6" stroke="#fff" stroke-opacity="0.07" stroke-width="2.4" filter="url(#bb3)"/><path d="M124 246L128.1 242.1L131.6 238.3L134.6 234.5L137.1 230.6L139 226.8L140.4 223L141.3 219.2L141.9 215.3L142 211.5" stroke="#000" stroke-opacity="0.08" stroke-width="2.4" filter="url(#bb3)"/><path d="M134 246L138.3 242.1L142.1 238.3L145.2 234.5L147.8 230.6L149.8 226.8L151.3 223L152.3 219.2L152.8 215.3L153 211.5" stroke="#fff" stroke-opacity="0.06" stroke-width="2.6" filter="url(#bb3)"/><path d="M70 251.9L66.8 247.4L64.1 242.9L61.7 238.4L59.8 233.9L58.4 229.4L57.2 225L56.5 220.5L56.1 216L56 211.5" stroke="#fff" stroke-opacity="0.1" stroke-width="2.4" filter="url(#bb3)"/><path d="M66 253.8L61.9 250.2L58.4 246.6L55.4 243L52.9 239.4L51 235.8L49.6 232.2L48.7 228.6L48.1 225L48 221.3" stroke="#000" stroke-opacity="0.08" stroke-width="2.4" filter="url(#bb3)"/><path d="M36 244L47 182" stroke="#fff" stroke-opacity="0.13" stroke-width="3" stroke-linecap="round" filter="url(#bb4)"/><path d="M40 246L52 186.9" stroke="#000" stroke-opacity="0.1" stroke-width="3" stroke-linecap="round" filter="url(#bb4)"/><path d="M44 247.9L57 182" stroke="#fff" stroke-opacity="0.14" stroke-width="3" stroke-linecap="round" filter="url(#bb4)"/><path d="M49 246L61 191.8" stroke="#000" stroke-opacity="0.1" stroke-width="3" stroke-linecap="round" filter="url(#bb4)"/><path d="M53 246L64 196.7" stroke="#fff" stroke-opacity="0.1" stroke-width="3" stroke-linecap="round" filter="url(#bb4)"/><path d="M33 231.2L40 186.9" stroke="#000" stroke-opacity="0.12" stroke-width="3" stroke-linecap="round" filter="url(#bb4)"/><path d="M189.5 185l-5 -30M195.1 203.7l-5.5 -29.3M200.8 212.6l-5.9 -28.5M206.7 218.7l-6.4 -27.7M212.8 223.7l-6.9 -26.9M218.9 228l-7.5 -26.1M225.3 230.9l-8 -25.2M231.8 233.6l-8.5 -24.4M238.4 235.6l-9.1 -23.5M245.2 237.5l-9.6 -22.6M252.2 239l-10 -22M259.3 240.2l-10 -22M266.4 241.4l-10 -22M273.5 242.1l-10 -22M280.6 242.9l-10 -22M287.7 243.5l-10 -22" stroke="#000" stroke-opacity=".45" stroke-width="2.4" stroke-linecap="round" filter="url(#bb4)"/><path d="M191.3 191.4l-2.8 -16.5M197 203.1l-3 -16.1M202.8 210.8l-3.3 -15.7M208.7 216.6l-3.5 -15.2M214.8 220.8l-3.8 -14.8M221.1 224.5l-4.1 -14.3M227.5 227.4l-4.4 -13.9M234.1 229.6l-4.7 -13.4M240.8 231.6l-5 -12.9M247.7 233.4l-5.3 -12.4M254.8 234.6l-5.5 -12.1M261.9 235.9l-5.5 -12.1M269 236.7l-5.5 -12.1M276.1 237.5l-5.5 -12.1M283.2 238.2l-5.5 -12.1M290.3 238.8l-5.5 -12.1" stroke="#fff" stroke-opacity=".2" stroke-width="2.6" stroke-linecap="round" filter="url(#bb4)"/></g></g>
<rect x="383.2" y="149.2" width="263.6" height="128" fill="#00008f"/>
<defs><linearGradient id="dsa" gradientUnits="userSpaceOnUse" x1="462" y1="0" x2="480.4" y2="0"><stop offset="0" stop-color="#000000"/><stop offset=".065" stop-color="#1f1f1f"/><stop offset=".152" stop-color="#5e5e5e"/><stop offset=".228" stop-color="#9e9e9e"/><stop offset=".299" stop-color="#dbdbdb"/><stop offset=".37" stop-color="#ffffff"/><stop offset=".647" stop-color="#ffffff"/><stop offset=".772" stop-color="#dedede"/><stop offset=".848" stop-color="#9e9e9e"/><stop offset=".908" stop-color="#5e5e5e"/><stop offset=".973" stop-color="#1f1f1f"/><stop offset="1" stop-color="#000000"/></linearGradient><linearGradient id="dsb" gradientUnits="userSpaceOnUse" x1="462" y1="0" x2="480.8" y2="0"><stop offset="0" stop-color="#000000"/><stop offset=".064" stop-color="#262626"/><stop offset=".133" stop-color="#5e5e5e"/><stop offset=".223" stop-color="#999999"/><stop offset=".33" stop-color="#b8b8b8"/><stop offset=".415" stop-color="#dbdbdb"/><stop offset=".521" stop-color="#ebebeb"/><stop offset=".638" stop-color="#dbdbdb"/><stop offset=".718" stop-color="#bdbdbd"/><stop offset=".824" stop-color="#999999"/><stop offset=".904" stop-color="#5e5e5e"/><stop offset=".968" stop-color="#1f1f1f"/><stop offset="1" stop-color="#000000"/></linearGradient><linearGradient id="dmag" gradientUnits="userSpaceOnUse" x1="0" y1="267.4" x2="0" y2="251.6"><stop offset="0" stop-color="#fff"/><stop offset="1" stop-color="#000"/></linearGradient><mask id="dma" maskUnits="userSpaceOnUse" x="420" y="140" width="120" height="150"><rect x="420" y="140" width="120" height="150" fill="url(#dmag)"/></mask><linearGradient id="dmbg" gradientUnits="userSpaceOnUse" x1="0" y1="242.7" x2="0" y2="226"><stop offset="0" stop-color="#fff"/><stop offset="1" stop-color="#000"/></linearGradient><mask id="dmb" maskUnits="userSpaceOnUse" x="420" y="140" width="120" height="150"><rect x="420" y="140" width="120" height="150" fill="url(#dmbg)"/></mask><linearGradient id="d3" gradientUnits="userSpaceOnUse" x1="0" y1="144.3" x2="0" y2="237.8"><stop offset="0" stop-color="#545454"/><stop offset=".579" stop-color="#616161"/><stop offset="1" stop-color="#666666"/></linearGradient><linearGradient id="d4" gradientUnits="userSpaceOnUse" x1="0" y1="144.3" x2="0" y2="237.8"><stop offset="0" stop-color="#616161"/><stop offset=".579" stop-color="#616161"/><stop offset="1" stop-color="#666666"/></linearGradient><linearGradient id="d6a" gradientUnits="userSpaceOnUse" x1="0" y1="144.3" x2="0" y2="237.8"><stop offset="0" stop-color="#4c4c4c"/><stop offset=".579" stop-color="#616161"/><stop offset="1" stop-color="#808080"/></linearGradient><linearGradient id="d6b" gradientUnits="userSpaceOnUse" x1="0" y1="144.3" x2="0" y2="251.6"><stop offset="0" stop-color="#808080"/><stop offset=".321" stop-color="#878787"/><stop offset=".505" stop-color="#949494"/><stop offset=".688" stop-color="#9e9e9e"/><stop offset=".872" stop-color="#a8a8a8"/><stop offset="1" stop-color="#adadad"/></linearGradient><linearGradient id="d6c" gradientUnits="userSpaceOnUse" x1="0" y1="144.3" x2="0" y2="218.1"><stop offset="0" stop-color="#707070"/><stop offset=".6" stop-color="#6b6b6b"/><stop offset="1" stop-color="#808080"/></linearGradient><linearGradient id="d7a" gradientUnits="userSpaceOnUse" x1="0" y1="144.3" x2="0" y2="237.8"><stop offset="0" stop-color="#808080"/><stop offset=".579" stop-color="#8c8c8c"/><stop offset="1" stop-color="#999999"/></linearGradient><linearGradient id="d7" gradientUnits="userSpaceOnUse" x1="0" y1="144.3" x2="0" y2="237.8"><stop offset="0" stop-color="#c7c7c7"/><stop offset=".579" stop-color="#d4d4d4"/><stop offset="1" stop-color="#e0e0e0"/></linearGradient><linearGradient id="d10a" gradientUnits="userSpaceOnUse" x1="0" y1="144.3" x2="0" y2="237.8"><stop offset="0" stop-color="#4c4c4c"/><stop offset=".579" stop-color="#5c5c5c"/><stop offset="1" stop-color="#737373"/></linearGradient><linearGradient id="d10b" gradientUnits="userSpaceOnUse" x1="0" y1="144.3" x2="0" y2="237.8"><stop offset="0" stop-color="#6e6e6e"/><stop offset=".368" stop-color="#787878"/><stop offset=".526" stop-color="#8c8c8c"/><stop offset=".684" stop-color="#a1a1a1"/><stop offset="1" stop-color="#ababab"/></linearGradient><linearGradient id="d10c" gradientUnits="userSpaceOnUse" x1="0" y1="186.6" x2="0" y2="248.6"><stop offset="0" stop-color="#999999"/><stop offset=".222" stop-color="#c2c2c2"/><stop offset=".429" stop-color="#d9d9d9"/><stop offset="1" stop-color="#e6e6e6"/></linearGradient><filter id="jetd" filterUnits="userSpaceOnUse" x="375.2" y="141.2" width="279.6" height="144.0" color-interpolation-filters="sRGB"><feGaussianBlur stdDeviation="0.45"/><feComponentTransfer><feFuncR type="table" tableValues="0 0 0 0 0 0 0 0 0 0 0 0 0 0 0 0 0 0 0 0 0 0 0 0 0.039 0.101 0.162 0.224 0.285 0.347 0.408 0.47 0.531 0.593 0.654 0.716 0.777 0.839 0.9 0.962 1 1 1 1 1 1 1 1 1 1 1 1 1 1 1 1 0.992 0.931 0.869 0.808 0.746 0.685 0.623 0.562 0.5"/><feFuncG type="table" tableValues="0 0 0 0 0 0 0 0 0.055 0.116 0.178 0.239 0.301 0.362 0.424 0.485 0.547 0.608 0.67 0.731 0.793 0.854 0.916 0.978 1 1 1 1 1 1 1 1 1 1 1 1 1 1 1 1 0.977 0.915 0.854 0.792 0.73 0.669 0.607 0.546 0.484 0.423 0.361 0.3 0.238 0.177 0.115 0.054 0 0 0 0 0 0 0 0 0"/><feFuncB type="table" tableValues="0.562 0.624 0.686 0.747 0.809 0.87 0.932 0.993 1 1 1 1 1 1 1 1 1 1 1 1 1 1 1 1 0.961 0.899 0.838 0.776 0.715 0.653 0.592 0.53 0.469 0.407 0.346 0.284 0.223 0.161 0.1 0.038 0 0 0 0 0 0 0 0 0 0 0 0 0 0 0 0 0 0 0 0 0 0 0 0 0"/><feFuncA type="linear" slope="0" intercept="1"/></feComponentTransfer></filter><filter id="db1" filterUnits="userSpaceOnUse" x="400" y="130" width="160" height="170"><feGaussianBlur stdDeviation="0.8"/></filter><filter id="db2" filterUnits="userSpaceOnUse" x="400" y="130" width="160" height="170"><feGaussianBlur stdDeviation="2.2"/></filter><clipPath id="clipd"><rect x="383.2" y="149.2" width="263.6" height="128.0"/></clipPath></defs><g clip-path="url(#clipd)"><g filter="url(#jetd)" fill="none"><rect x="375.2" y="141.2" width="279.6" height="144.0" fill="#000"/><rect x="462" y="224" width="18.8" height="57.1" fill="url(#dsb)" mask="url(#dmb)" style="mix-blend-mode:lighten"/><rect x="462" y="250.6" width="18.4" height="30.5" fill="url(#dsa)" mask="url(#dma)" style="mix-blend-mode:lighten"/><path d="M474 241.8 L497 143.3 L524 143.3 L481 241.8Z" fill="#171717" filter="url(#db2)" style="mix-blend-mode:lighten"/><path d="M474 243.7 L484 202.4 L498 204.3 L481 243.7Z" fill="#333333" filter="url(#db2)" style="mix-blend-mode:lighten"/><path d="M463.5 243.7 L453 208.3 L466 202.4 L468.5 243.7Z" fill="#4c4c4c" filter="url(#db2)" style="mix-blend-mode:lighten"/><path d="M462 233.9 L431 143.3 L441 143.3 L464 231.9Z" fill="#171717" filter="url(#db2)" style="mix-blend-mode:lighten"/><path d="M476 241.8L477.5 232.9L479.2 224L481.1 215.2L483 206.3L485.2 197.4L487.5 188.6L489.9 179.7L492.5 170.9L495.2 162L498.1 153.1L501.1 144.3" stroke="#333333" stroke-width="1.7" filter="url(#db1)" style="mix-blend-mode:lighten"/><path d="M477.5 241.8L479 232.9L480.8 224L482.7 215.2L484.8 206.3L487.2 197.4L489.7 188.6L492.4 179.7L495.3 170.9L498.5 162L501.8 153.1L505.3 144.3" stroke="#454545" stroke-width="1.7" filter="url(#db1)" style="mix-blend-mode:lighten"/><path d="M479 241.8L480.7 232.9L482.6 224L484.7 215.2L487.1 206.3L489.6 197.4L492.4 188.6L495.4 179.7L498.6 170.9L502 162L505.6 153.1L509.5 144.3" stroke="#383838" stroke-width="1.7" filter="url(#db1)" style="mix-blend-mode:lighten"/><path d="M480.5 241.8L482.5 232.9L484.7 224L487.1 215.2L489.7 206.3L492.6 197.4L495.6 188.6L498.9 179.7L502.4 170.9L506.1 162L510 153.1L514.1 144.3" stroke="#3d3d3d" stroke-width="1.7" filter="url(#db1)" style="mix-blend-mode:lighten"/><path d="M482 241.8L484.4 232.9L487 224L489.8 215.2L492.8 206.3L496 197.4L499.4 188.6L503 179.7L506.8 170.9L510.8 162L514.9 153.1L519.3 144.3" stroke="#292929" stroke-width="1.7" filter="url(#db1)" style="mix-blend-mode:lighten"/><path d="M463.4 228L461 220.4L458.6 212.8L456.2 205.1L453.9 197.5L451.6 189.9L449.3 182.3L447.1 174.7L444.9 167.1L442.8 159.5L440.7 151.9L438.6 144.3" stroke="#292929" stroke-width="2.4" filter="url(#db1)" style="mix-blend-mode:lighten"/><path d="M463.4 228L461 220.4L458.6 212.8L456.2 205.1L453.9 197.5L451.6 189.9L449.3 182.3L447.1 174.7L444.9 167.1L442.8 159.5L440.7 151.9L438.6 144.3" stroke="#424242" stroke-width="1.6" stroke-dasharray="1 2.6" filter="url(#db1)" style="mix-blend-mode:lighten"/><path d="M464.6 241.8L461.6 232.9L458.6 224L455.5 215.2L452.4 206.3L449.3 197.4L446.1 188.6L442.8 179.7L439.6 170.9L436.3 162L432.9 153.1L429.5 144.3" stroke="#262626" stroke-width="4.6" filter="url(#db1)" style="mix-blend-mode:lighten"/><path d="M464.6 241.8L461.6 232.9L458.6 224L455.5 215.2L452.4 206.3L449.3 197.4L446.1 188.6L442.8 179.7L439.6 170.9L436.3 162L432.9 153.1L429.5 144.3" stroke="#3b3b3b" stroke-width="2.4" style="mix-blend-mode:lighten"/><path d="M464.6 241.8L461.6 232.9L458.6 224L455.5 215.2L452.4 206.3L449.3 197.4L446.1 188.6L442.8 179.7L439.6 170.9L436.3 162L432.9 153.1L429.5 144.3" stroke="#5e5e5e" stroke-width="2.0" stroke-dasharray="1.1 2.3" style="mix-blend-mode:lighten"/><path d="M466.2 239.8L465.6 231.1L464.9 222.4L464.3 213.7L463.7 205.1L463.1 196.4L462.5 187.7L461.9 179L461.3 170.3L460.8 161.6L460.2 153L459.6 144.3" stroke="url(#d3)" stroke-width="1.6" style="mix-blend-mode:lighten"/><path d="M467.1 239.8L466.6 231.1L466.2 222.4L465.7 213.7L465.3 205.1L464.9 196.4L464.5 187.7L464.1 179L463.7 170.3L463.4 161.6L463 153L462.7 144.3" stroke="url(#d4)" stroke-width="1.5" style="mix-blend-mode:lighten"/><path d="M467.4 228L467.2 220.4L467 212.8L466.8 205.1L466.6 197.5L466.3 189.9L466.1 182.3L465.9 174.7L465.7 167.1L465.5 159.5L465.3 151.9L465.1 144.3" stroke="#333333" stroke-width="1.1" style="mix-blend-mode:lighten"/><path d="M467 251.6L467.3 241.8L467.6 232.1L467.8 222.3L468 212.6L468.2 202.8L468.3 193.1L468.5 183.3L468.6 173.5L468.7 163.8L468.8 154L468.8 144.3" stroke="url(#d6a)" stroke-width="5.0" filter="url(#db1)" style="mix-blend-mode:lighten"/><path d="M467 251.6L467.3 241.8L467.6 232.1L467.8 222.3L468 212.6L468.2 202.8L468.3 193.1L468.5 183.3L468.6 173.5L468.7 163.8L468.8 154L468.8 144.3" stroke="url(#d6b)" stroke-width="2.7" style="mix-blend-mode:lighten"/><path d="M470 218.1L470.3 211.4L470.5 204.7L470.8 198L471 191.3L471.2 184.6L471.4 177.8L471.6 171.1L471.8 164.4L471.9 157.7L472.1 151L472.2 144.3" stroke="url(#d6c)" stroke-width="1.9" style="mix-blend-mode:lighten"/><path d="M470.8 249.6L471.1 240.1L471.5 230.5L472 220.9L472.5 211.3L473 201.7L473.7 192.2L474.4 182.6L475.1 173L476 163.4L476.9 153.9L477.8 144.3" stroke="url(#d7a)" stroke-width="3.6" filter="url(#db1)" style="mix-blend-mode:lighten"/><path d="M470.8 249.6L471.1 240.1L471.5 230.5L472 220.9L472.5 211.3L473 201.7L473.7 192.2L474.4 182.6L475.1 173L476 163.4L476.9 153.9L477.8 144.3" stroke="url(#d7)" stroke-width="2.0" style="mix-blend-mode:lighten"/><path d="M475.8 248.6L480.6 239.2L485.5 229.7L490.3 220.2L495.1 210.7L499.9 201.2L504.8 191.7L509.6 182.2L514.5 172.7L519.3 163.3L524.2 153.8L529.1 144.3" stroke="url(#d10a)" stroke-width="7.6" filter="url(#db1)" style="mix-blend-mode:lighten"/><path d="M475.8 248.6L480.6 239.2L485.5 229.7L490.3 220.2L495.1 210.7L499.9 201.2L504.8 191.7L509.6 182.2L514.5 172.7L519.3 163.3L524.2 153.8L529.1 144.3" stroke="url(#d10b)" stroke-width="3.8" style="mix-blend-mode:lighten"/><path d="M475.8 248.6L478.7 243L481.6 237.4L484.4 231.7L487.3 226.1L490.1 220.5L493 214.8L495.9 209.2L498.7 203.5L501.6 197.9L504.5 192.3L507.4 186.6" stroke="url(#d10c)" stroke-width="1.7" stroke-linecap="round" stroke-dasharray="0.1 3.9" style="mix-blend-mode:lighten"/><path d="M471.2 255.5L472.5 245.4L473.9 235.3L475.6 225.2L477.4 215.1L479.5 205L481.7 194.9L484.2 184.7L486.8 174.6L489.7 164.5L492.7 154.4L496 144.3" stroke="#737373" stroke-width="3.0" filter="url(#db1)" style="mix-blend-mode:lighten"/><path d="M471.2 255.5L472.5 245.4L473.9 235.3L475.6 225.2L477.4 215.1L479.5 205L481.7 194.9L484.2 184.7L486.8 174.6L489.7 164.5L492.7 154.4L496 144.3" stroke="#bdbdbd" stroke-width="1.7" style="mix-blend-mode:lighten"/><path d="M471.2 255.5L472.5 245.4L473.9 235.3L475.6 225.2L477.4 215.1L479.5 205L481.7 194.9L484.2 184.7L486.8 174.6L489.7 164.5L492.7 154.4L496 144.3" stroke="#f2f2f2" stroke-width="1.6" stroke-dasharray="1.7 1.9" style="mix-blend-mode:lighten"/></g></g>
<defs>
</defs>
<linearGradient id="cbb" x1="0" y1="0" x2="0" y2="1"><stop offset="0.0000" stop-color="#800000"/><stop offset="0.0625" stop-color="#be0000"/><stop offset="0.1250" stop-color="#fd0000"/><stop offset="0.1875" stop-color="#ff3d00"/><stop offset="0.2500" stop-color="#ff7c00"/><stop offset="0.3125" stop-color="#ffba00"/><stop offset="0.3750" stop-color="#fff900"/><stop offset="0.4375" stop-color="#c6ff39"/><stop offset="0.5000" stop-color="#87ff78"/><stop offset="0.5625" stop-color="#49ffb6"/><stop offset="0.6250" stop-color="#0afff5"/><stop offset="0.6875" stop-color="#00caff"/><stop offset="0.7500" stop-color="#008bff"/><stop offset="0.8125" stop-color="#004dff"/><stop offset="0.8750" stop-color="#000eff"/><stop offset="0.9375" stop-color="#0000ce"/><stop offset="1.0000" stop-color="#00008f"/></linearGradient><rect x="305.9" y="148.0" width="5.1" height="128.5" fill="url(#cbb)"/>
<linearGradient id="cbd" x1="0" y1="0" x2="0" y2="1"><stop offset="0.0000" stop-color="#800000"/><stop offset="0.0625" stop-color="#be0000"/><stop offset="0.1250" stop-color="#fd0000"/><stop offset="0.1875" stop-color="#ff3d00"/><stop offset="0.2500" stop-color="#ff7c00"/><stop offset="0.3125" stop-color="#ffba00"/><stop offset="0.3750" stop-color="#fff900"/><stop offset="0.4375" stop-color="#c6ff39"/><stop offset="0.5000" stop-color="#87ff78"/><stop offset="0.5625" stop-color="#49ffb6"/><stop offset="0.6250" stop-color="#0afff5"/><stop offset="0.6875" stop-color="#00caff"/><stop offset="0.7500" stop-color="#008bff"/><stop offset="0.8125" stop-color="#004dff"/><stop offset="0.8750" stop-color="#000eff"/><stop offset="0.9375" stop-color="#0000ce"/><stop offset="1.0000" stop-color="#00008f"/></linearGradient><rect x="658.6" y="149.6" width="5.1" height="128.4" fill="url(#cbd)"/>
<path d="M34.5 126.4L34.8 126.4L35.1 126.4L35.4 126.4L35.7 126.4L36.0 126.4L36.3 126.4L36.6 126.4L36.9 126.4L37.2 126.4L37.5 126.4L37.8 126.4L38.1 126.4L38.4 126.4L38.7 126.4L39.0 126.4L39.3 126.4L39.6 126.4L39.9 126.4L40.2 126.4L40.5 126.4L40.8 126.4L41.1 126.4L41.4 126.4L41.7 126.4L42.0 126.4L42.3 126.4L42.6 126.4L42.9 126.4L43.2 126.4L43.5 126.4L43.8 126.4L44.1 126.4L44.4 126.4L44.7 126.4L45.0 126.4L45.3 126.4L45.6 126.4L45.9 126.4L46.2 126.4L46.5 126.4L46.8 126.4L47.1 126.4L47.4 126.4L47.7 126.4L48.0 126.4L48.3 126.4L48.6 126.4L48.9 126.4L49.2 126.4L49.5 126.3L49.8 126.3L50.1 126.3L50.4 126.2L50.7 126.2L51.0 126.2L51.3 126.1L51.6 126.1L51.9 126.0L52.2 125.9L52.5 125.6L52.8 125.2L53.1 124.8L53.4 124.3L53.7 123.8L54.0 123.3L54.3 122.8L54.6 122.4L54.9 121.9L55.2 121.4L55.5 120.9L55.8 120.4L56.1 119.9L56.4 119.5L56.7 119.1L57.0 118.7L57.3 118.5L57.6 118.3L57.9 118.3L58.2 118.5L58.5 118.8L58.8 119.2L59.1 119.7L59.4 120.3L59.7 121.0L60.0 121.6L60.3 122.2L60.6 122.7L60.9 123.3L61.2 124.0L61.5 124.7L61.8 125.3L62.1 125.7L62.4 126.0L62.7 126.0L63.0 126.0L63.3 126.0L63.6 125.9L63.9 125.9L64.2 125.8L64.5 125.7L64.8 125.7L65.1 125.6L65.4 125.3L65.7 124.8L66.0 124.3L66.3 123.7L66.6 123.1L66.9 122.6L67.2 122.4L67.5 122.3L67.8 122.6L68.1 123.1L68.4 123.8L68.7 124.4L69.0 125.0L69.3 125.5L69.6 125.6L69.9 125.7L70.2 125.8L70.5 125.8L70.8 125.9L71.1 125.9L71.4 126.0L71.7 126.0L72.0 126.0L72.3 126.0L72.6 125.9L72.9 125.9L73.2 125.7L73.5 125.6L73.8 125.4L74.1 125.2L74.4 125.0L74.7 124.8L75.0 124.5L75.3 124.0L75.6 123.0L75.9 121.9L76.2 120.9L76.5 120.0L76.8 119.3L77.1 118.6L77.4 118.0L77.7 117.6L78.0 117.6L78.3 118.5L78.6 120.0L78.9 121.6L79.2 124.1L79.5 126.0L79.8 125.9L80.1 124.3L80.4 121.9L80.7 118.9L81.0 113.4L81.3 105.8L81.6 97.0L81.9 87.9L82.2 78.9L82.5 68.7L82.8 58.1L83.1 48.1L83.4 38.4L83.7 27.7L84.0 18.3L84.3 12.9L84.6 14.5L84.9 22.8L85.2 33.6L85.5 42.8L85.8 51.2L86.1 59.6L86.4 67.5L86.7 74.8L87.0 81.7L87.3 88.1L87.6 93.9L87.9 99.4L88.2 104.5L88.5 108.8L88.8 112.4L89.1 115.8L89.4 117.3L89.7 115.7L90.0 112.0L90.3 108.0L90.6 104.0L90.9 99.6L91.2 95.3L91.5 92.0L91.8 89.3L92.1 86.6L92.4 84.6L92.7 83.5L93.0 84.3L93.3 87.7L93.6 91.1L93.9 91.5L94.2 86.0L94.5 77.5L94.8 70.0L95.1 64.0L95.4 57.8L95.7 53.1L96.0 51.2L96.3 56.6L96.6 67.9L96.9 78.4L97.2 90.5L97.5 99.3L97.8 98.6L98.1 93.0L98.4 85.9L98.7 80.3L99.0 74.8L99.3 70.0L99.6 68.0L99.9 71.8L100.2 80.3L100.5 89.5L100.8 97.0L101.1 105.4L101.4 113.5L101.7 119.6L102.0 122.0L102.3 119.3L102.6 112.7L102.9 104.8L103.2 98.0L103.5 92.0L103.8 85.6L104.1 80.6L104.4 78.6L104.7 82.5L105.0 91.1L105.3 100.0L105.6 109.4L105.9 119.6L106.2 126.0L106.5 124.9L106.8 118.2L107.1 109.7L107.4 102.9L107.7 96.0L108.0 89.9L108.3 87.3L108.6 89.7L108.9 94.9L109.2 100.0L109.5 104.7L109.8 109.4L110.1 112.3L110.4 111.9L110.7 109.3L111.0 105.4L111.3 100.8L111.6 96.4L111.9 92.9L112.2 89.3L112.5 85.4L112.8 81.8L113.1 78.9L113.4 77.1L113.7 76.9L114.0 78.8L114.3 81.9L114.6 85.0L114.9 88.2L115.2 91.5L115.5 93.0L115.8 91.1L116.1 86.8L116.4 82.2L116.7 78.5L117.0 74.6L117.3 72.1L117.6 72.3L117.9 73.8L118.2 75.8L118.5 77.6L118.8 79.7L119.1 81.6L119.4 82.5L119.7 80.9L120.0 77.3L120.3 74.0L120.6 71.6L120.9 69.3L121.2 67.2L121.5 65.1L121.8 63.0L122.1 60.8L122.4 58.5L122.7 56.4L123.0 54.3L123.3 52.1L123.6 49.7L123.9 47.0L124.2 44.0L124.5 39.9L124.8 34.7L125.1 29.4L125.4 25.0L125.7 21.0L126.0 17.2L126.3 15.0L126.6 15.5L126.9 18.5L127.2 22.6L127.5 27.1L127.8 33.0L128.1 39.6L128.4 46.0L128.7 52.2L129.0 58.4L129.3 64.4L129.6 69.7L129.9 74.5L130.2 78.9L130.5 83.2L130.8 87.5L131.1 92.8L131.4 97.9L131.7 101.5L132.0 102.1L132.3 99.5L132.6 95.2L132.9 91.1L133.2 88.0L133.5 84.8L133.8 82.5L134.1 82.1L134.4 83.7L134.7 86.6L135.0 89.9L135.3 93.0L135.6 96.4L135.9 100.1L136.2 103.8L136.5 107.0L136.8 109.9L137.1 113.0L137.4 115.8L137.7 117.8L138.0 118.6L138.3 118.0L138.6 116.5L138.9 114.4L139.2 112.3L139.5 110.5L139.8 109.1L140.1 107.7L140.4 106.3L140.7 105.1L141.0 104.3L141.3 104.0L141.6 106.4L141.9 111.1L142.2 115.3L142.5 119.5L142.8 122.4L143.1 122.3L143.4 121.1L143.7 119.4L144.0 118.0L144.3 116.7L144.6 115.4L144.9 114.6L145.2 114.9L145.5 116.6L145.8 118.7L146.1 120.6L146.4 122.8L146.7 124.6L147.0 125.0L147.3 124.4L147.6 123.3L147.9 122.1L148.2 121.0L148.5 119.9L148.8 118.8L149.1 118.0L149.4 117.9L149.7 118.7L150.0 120.1L150.3 121.6L150.6 122.8L150.9 124.3L151.2 125.3L151.5 125.6L151.8 125.2L152.1 124.5L152.4 123.8L152.7 123.2L153.0 123.0L153.3 123.2L153.6 123.7L153.9 124.3L154.2 124.8L154.5 125.0L154.8 124.8L155.1 124.3L155.4 123.7L155.7 123.0L156.0 122.5L156.3 122.1L156.6 121.7L156.9 121.4L157.2 121.0L157.5 120.5L157.8 119.8L158.1 118.9L158.4 117.9L158.7 116.9L159.0 116.0L159.3 115.1L159.6 114.2L159.9 113.4L160.2 112.6L160.5 112.0L160.8 111.5L161.1 110.9L161.4 110.4L161.7 110.1L162.0 109.8L162.3 109.7L162.6 109.6L162.9 109.6L163.2 109.6L163.5 109.5L163.8 108.8L164.1 107.4L164.4 106.2L164.7 105.8L165.0 105.5L165.3 105.2L165.6 105.1L165.9 105.0L166.2 105.1L166.5 105.3L166.8 105.6L167.1 105.8L167.4 106.0L167.7 105.9L168.0 105.7L168.3 105.2L168.6 104.8L168.9 104.3L169.2 104.1L169.5 104.0L169.8 104.1L170.1 104.4L170.4 104.8L170.7 105.1L171.0 105.8L171.3 106.6L171.6 107.5L171.9 108.2L172.2 108.9L172.5 109.7L172.8 110.3L173.1 111.0L173.4 111.7L173.7 112.4L174.0 113.0L174.3 113.6L174.6 114.3L174.9 114.9L175.2 115.5L175.5 116.1L175.8 116.7L176.1 117.3L176.4 117.8L176.7 118.3L177.0 118.8L177.3 119.3L177.6 119.8L177.9 120.3L178.2 120.7L178.5 121.1L178.8 121.5L179.1 121.9L179.4 122.3L179.7 122.7L180.0 123.0L180.3 123.4L180.6 123.7L180.9 124.0L181.2 124.2L181.5 124.5L181.8 124.7L182.1 125.0L182.4 125.2L182.7 125.4L183.0 125.6L183.3 125.8L183.6 125.9L183.9 126.0L184.2 126.1L184.5 126.1L184.8 126.1L185.1 126.2L185.4 126.2L185.7 126.3L186.0 126.3L186.3 126.3L186.6 126.3L186.9 126.4L187.2 126.4L187.5 126.4L187.8 126.4L188.1 126.4L188.4 126.4L188.7 126.4L189.0 126.4L189.3 126.4L189.6 126.4L189.9 126.4L292.0 126.4" fill="none" stroke="#3a3a3a" stroke-width="1.45" stroke-linejoin="round"/>
<path d="M34.5 126.6L35.2 126.4L35.9 126.3L36.6 125.7L37.3 126.1L38.0 126.1L38.7 126.2L39.4 126.0L40.1 126.1L40.8 126.0L41.5 125.7L42.2 126.3L42.9 126.3L43.6 126.6L44.3 126.0L45.0 125.9L45.7 125.8L46.4 125.5L47.1 126.2L47.8 125.5L48.5 125.5L49.2 125.7L49.9 126.2L50.6 125.8L51.3 125.3L52.0 125.4L52.7 125.8L53.4 125.5L54.1 125.3L54.8 125.4L55.5 125.6L56.2 126.0L56.9 124.9L57.6 125.1L58.3 125.0L59.0 124.4L59.7 124.8L60.4 124.7L61.1 125.3L61.8 124.9L62.5 124.4L63.2 125.0L63.9 124.6L64.6 124.1L65.3 124.3L66.0 124.2L66.7 124.0L67.4 124.2L68.1 123.4L68.8 123.9L69.5 123.8L70.2 124.1L70.9 124.0L71.6 123.1L72.3 122.7L73.0 118.2L73.7 119.3L74.4 113.9L75.1 113.9L75.8 110.1L76.5 111.9L77.2 109.0L77.9 101.9L78.6 98.9L79.3 89.5L80.0 85.2L80.7 80.0L81.4 73.4L82.1 70.4L82.8 67.2L83.5 57.8L84.2 54.5L84.9 46.3L85.6 40.7L86.3 35.7L87.0 33.8L87.0 33.7L87.7 36.7L88.4 41.7L89.1 49.7L89.8 50.1L90.5 56.3L91.2 60.7L91.9 62.4L92.6 67.2L93.3 72.1L94.0 74.0L94.7 76.2L95.4 76.6L96.1 82.3L96.8 85.1L97.5 87.4L98.2 86.2L98.9 85.4L99.6 81.5L100.3 79.5L101.0 77.9L101.7 74.8L102.4 74.5L103.1 77.8L103.8 76.5L104.5 74.0L105.2 76.3L105.9 77.9L106.6 79.9L107.3 79.5L108.0 79.6L108.7 80.4L109.4 81.6L110.1 79.2L110.8 75.5L111.5 73.2L112.2 70.1L112.9 68.9L113.6 64.3L114.3 63.1L115.0 60.8L115.7 57.5L116.4 52.8L117.1 52.8L117.8 47.4L118.5 46.2L119.2 40.2L119.9 33.5L120.6 28.3L121.3 17.5L121.6 12.5L122.0 18.1L122.7 20.6L123.4 17.3L124.0 16.0L124.1 19.7L124.8 26.1L125.5 23.4L126.2 29.4L126.9 33.5L127.6 38.9L128.3 46.2L129.0 49.0L129.7 52.1L130.4 57.8L131.1 63.1L131.8 66.7L132.5 71.9L133.2 73.0L133.9 79.3L134.6 83.0L135.3 85.2L136.0 89.5L136.7 92.3L137.4 94.0L138.1 100.3L138.8 100.6L139.5 105.1L140.2 107.5L140.9 109.8L141.6 110.0L142.3 112.4L143.0 113.4L143.7 116.1L144.4 114.8L145.1 116.7L145.8 117.0L146.5 116.3L147.2 122.4L147.9 119.2L148.6 117.9L149.3 122.3L150.0 119.6L150.7 121.8L151.4 122.8L152.1 121.1L152.8 121.8L153.5 121.8L154.2 122.1L154.9 119.8L155.6 120.1L156.3 121.2L157.0 122.3L157.7 121.2L158.4 122.1L159.1 119.8L159.8 117.2L160.5 116.8L161.2 113.0L161.9 113.3L162.6 112.0L163.3 112.7L164.0 112.2L164.7 109.6L165.4 108.7L166.1 106.5L166.8 107.6L167.5 107.4L168.2 107.1L168.9 104.8L169.1 105.7L169.6 108.1L170.3 107.3L171.0 107.8L171.7 109.4L172.4 111.3L173.1 112.4L173.8 114.5L174.5 116.0L175.2 117.7L175.9 118.3L176.6 117.4L177.3 119.0L178.0 118.3L178.7 118.6L179.4 123.7L180.1 119.8L180.8 124.5L181.5 120.7L182.2 122.1L182.9 123.8L183.6 122.1L184.3 123.0L185.0 122.0L185.7 121.7L186.4 122.0L187.1 121.0L187.8 125.0L188.5 122.0L189.2 125.6" fill="none" stroke="#a50010" stroke-width="2.3" stroke-linejoin="round"/>
<path class="tk" d="M34.2 126.6v-3.2M55.7 126.6v-1.8M77.3 126.6v-3.2M98.8 126.6v-1.8M120.3 126.6v-3.2M141.9 126.6v-1.8M163.4 126.6v-3.2M184.9 126.6v-1.8M206.4 126.6v-3.2M228.0 126.6v-1.8M249.5 126.6v-3.2M271.0 126.6v-1.8M292.6 126.6v-3.2"/>
<rect class="ax" x="34.2" y="1.8" width="258.3" height="125.2"/>
<path class="tk" d="M383.2 128.3v-3.4M427.0 128.3v-1.8M470.9 128.3v-3.4M514.7 128.3v-1.8M558.5 128.3v-3.4M602.3 128.3v-1.8M646.2 128.3v-3.4"/>
<path d="M244.1 13.7h11.6" stroke="#b01020" stroke-width="1.5"/><path d="M244.1 26.6h11.6" stroke="#404040" stroke-width="1.2"/>
<text class="w" x="259.8" y="17.5">Exp.</text><text class="w" x="259.8" y="30.4">Sim.</text>
<text class="w red" x="37.6" y="44.6">Pump</text>
<path d="M68.4 41.3h9" stroke="#c1121c" stroke-width="1.6"/><path d="M82 41.3l-5.6-2.7v5.4z" fill="#c1121c"/>
<text class="w red" x="146.2" y="24.3">Soliton 2</text>
<path d="M142.3 20.4h-8" stroke="#c1121c" stroke-width="1.6"/><path d="M129.8 20.4l5.6-2.7v5.4z" fill="#c1121c"/>
<text class="w red" x="148.2" y="84.6">Soliton 1</text>
<path d="M169.4 90.5v8" stroke="#c1121c" stroke-width="1.6"/><path d="M169.4 102.8l-2.7-5.6h5.4z" fill="#c1121c"/>
<text class="w" transform="translate(22.6 63.8) rotate(-90)" text-anchor="middle">Intensity (a.u.)</text>
<path d="M384.00 128.20L426.75 128.19L427.00 128.16L427.25 128.09L427.50 127.95L427.75 127.74L428.00 127.48L428.25 127.24L428.50 127.06L428.75 126.92L429.00 126.70L429.25 126.28L429.50 125.68L429.75 125.13L430.00 124.89L430.25 125.08L430.50 125.56L430.75 126.04L431.00 126.33L431.25 126.42L431.50 126.48L431.75 126.62L432.00 126.84L432.25 127.06L432.50 127.21L432.75 127.28L433.00 127.33L433.25 127.43L433.50 127.57L433.75 127.75L434.00 127.91L434.25 128.04L434.50 128.12L434.75 128.16L435.00 128.19L456.25 128.19L456.50 128.18L456.75 128.15L457.00 128.08L457.25 127.96L457.50 127.77L457.75 127.52L458.00 127.27L458.25 127.07L458.50 126.99L458.75 127.04L459.00 127.17L459.25 127.30L459.50 127.30L459.75 127.11L460.00 126.72L460.25 126.23L460.50 125.79L460.75 125.54L461.00 125.54L461.25 125.73L461.50 125.93L461.75 125.97L462.00 125.78L462.25 125.46L462.50 125.18L462.75 125.14L463.00 125.42L463.25 125.92L463.50 126.48L463.75 126.90L464.00 127.09L464.25 127.04L464.50 126.85L464.75 126.65L465.00 126.57L465.25 126.66L465.50 126.86L465.75 127.08L466.00 127.16L466.25 127.00L466.50 126.50L466.75 125.65L467.00 124.52L467.25 123.24L467.50 122.06L467.75 121.21L468.00 120.90L468.25 121.21L468.50 122.05L468.75 123.24L469.00 124.50L469.25 125.60L469.50 126.39L469.75 126.78L470.00 126.71L470.25 126.21L470.50 125.30L470.75 124.09L471.00 122.77L471.25 121.59L471.50 120.81L471.75 120.61L472.00 121.06L472.25 122.04L472.50 123.32L472.75 124.66L473.00 125.84L473.25 126.76L473.50 127.39L473.75 127.76L474.00 127.95L474.25 127.97L474.50 127.82L474.75 127.41L475.00 126.59L475.25 125.09L475.50 122.61L475.75 118.80L476.00 113.45L476.25 106.61L476.50 98.72L476.75 90.64L477.00 83.54L477.25 78.65L477.50 76.90L477.75 78.65L478.00 83.54L478.25 90.64L478.50 98.72L478.75 106.61L479.00 113.45L479.25 118.80L479.50 122.61L479.75 125.10L480.00 126.59L480.25 127.42L480.50 127.85L480.75 128.05L481.00 128.14L481.25 128.18L481.50 128.19L491.00 128.18L491.25 128.15L491.50 128.07L491.75 127.87L492.00 127.41L492.25 126.45L492.50 124.57L492.75 121.20L493.00 115.58L493.25 106.99L493.50 94.94L493.75 79.52L494.00 61.71L494.25 43.48L494.50 27.46L494.75 16.44L495.00 12.50L495.25 16.44L495.50 27.46L495.75 43.48L496.00 61.71L496.25 79.52L496.50 94.94L496.75 106.99L497.00 115.58L497.25 121.20L497.50 124.57L497.75 126.45L498.00 127.41L498.25 127.87L498.50 128.07L498.75 128.15L499.00 128.18L507.75 128.18L508.00 128.18L508.25 128.17L508.50 128.16L508.75 128.15L509.00 128.13L509.25 128.11L509.50 128.09L509.75 128.07L510.00 128.04L510.25 128.01L510.50 127.97L510.75 127.93L511.00 127.90L511.25 127.86L511.50 127.82L511.75 127.79L512.00 127.76L512.25 127.73L512.50 127.72L512.75 127.70L513.00 127.70L513.25 127.70L513.50 127.72L513.75 127.73L514.00 127.76L514.25 127.79L514.50 127.82L514.75 127.86L515.00 127.90L515.25 127.93L515.50 127.97L515.75 128.01L516.00 128.04L516.25 128.07L516.50 128.09L516.75 128.11L517.00 128.13L517.25 128.15L517.50 128.16L517.75 128.17L518.00 128.18L518.25 128.18L519.50 128.18L519.75 128.18L520.00 128.17L520.25 128.16L520.50 128.15L520.75 128.13L521.00 128.11L521.25 128.09L521.50 128.05L521.75 128.02L522.00 127.97L522.25 127.92L522.50 127.85L522.75 127.78L523.00 127.69L523.25 127.59L523.50 127.48L523.75 127.36L524.00 127.23L524.25 127.08L524.50 126.92L524.75 126.76L525.00 126.59L525.25 126.42L525.50 126.24L525.75 126.07L526.00 125.90L526.25 125.75L526.50 125.60L526.75 125.48L527.00 125.37L527.25 125.29L527.50 125.24L527.75 125.20L528.00 125.20L528.25 125.23L528.50 125.28L528.75 125.36L529.00 125.46L529.25 125.58L529.50 125.72L529.75 125.87L530.00 126.03L530.25 126.21L530.50 126.38L530.75 126.55L531.00 126.73L531.25 126.89L531.50 127.05L531.75 127.20L532.00 127.33L532.25 127.46L532.50 127.57L532.75 127.67L533.00 127.76L533.25 127.84L533.50 127.91L533.75 127.96L534.00 128.01L534.25 128.05L534.50 128.08L534.75 128.11L535.00 128.13L535.25 128.14L535.50 128.16L535.75 128.17L536.00 128.18L536.25 128.18L646.00 128.20" fill="none" stroke="#3a3a3a" stroke-width="1.35" stroke-linejoin="round"/>
<path d="M514.4 128V108.4h27.4V128" fill="none" stroke="#111" stroke-width="1.1" stroke-dasharray="2.6 1.9"/>
<rect class="ax" x="383.2" y="1.8" width="263.1" height="126.9"/>
<text class="w" transform="translate(372.8 63.8) rotate(-90)" text-anchor="middle">Intensity (a.u.)</text>
<path d="M530.2 2.5V82.7H637.8" fill="none" stroke="#111" stroke-width="1"/>
<path d="M530.2 82.6v-2M584 82.6v-2M637.7 82.6v-2" class="tk" stroke-width=".9"/>
<path d="M530.20 81.53L530.70 81.42L531.20 81.31L531.70 81.19L532.20 81.05L532.70 80.91L533.20 80.76L533.70 80.60L534.20 80.44L534.70 80.27L535.20 80.10L535.70 79.92L536.20 79.74L536.70 79.57L537.20 79.39L537.70 79.22L538.20 79.06L538.70 78.90L539.20 78.76L539.70 78.63L540.20 78.52L540.70 78.42L541.20 78.33L541.70 78.27L542.20 78.23L542.70 78.20L543.20 78.20L543.70 78.22L544.20 78.26L544.70 78.32L545.20 78.40L545.70 78.49L546.20 78.61L546.70 78.73L547.20 78.88L547.70 79.03L548.20 79.19L548.70 79.36L549.20 79.53L549.70 79.71L550.20 79.88L550.70 80.06L551.20 80.30L551.70 80.63L552.20 80.92L552.70 81.18L553.20 81.40L553.70 81.60L554.20 81.77L554.70 81.91L555.20 82.03L555.70 82.13L556.20 82.21L556.70 82.27L557.20 82.30L557.70 82.30L558.20 82.30L558.70 82.30L559.20 82.30L559.70 82.30L560.20 82.30L560.70 82.30L561.20 82.30L561.70 82.30L562.20 82.30L562.70 82.30L563.20 82.30L563.70 82.30L564.20 82.30L564.70 82.29L565.20 82.18L565.70 81.97L566.20 81.66L566.70 81.22L567.20 80.65L567.70 79.92L568.20 79.04L568.70 77.99L569.20 76.79L569.70 75.45L570.20 74.01L570.70 72.52L571.20 71.04L571.70 69.67L572.20 68.25L572.70 66.73L573.20 65.12L573.70 63.43L574.20 61.65L574.70 59.81L575.20 57.90L575.70 55.95L576.20 53.95L576.70 51.93L577.20 49.91L577.70 47.90L578.20 45.91L578.70 43.98L579.20 42.11L579.70 40.32L580.20 38.64L580.70 37.09L581.20 35.67L581.70 34.42L582.20 33.34L582.70 32.44L583.20 31.74L583.70 31.25L584.20 30.97L584.70 30.90L585.20 31.02L585.70 31.29L586.20 31.72L586.70 32.31L587.20 33.05L587.70 33.93L588.20 34.94L588.70 36.07L589.20 37.33L589.70 38.68L590.20 40.13L590.70 41.66L591.20 43.26L591.70 44.91L592.20 46.60L592.70 48.33L593.20 50.07L593.70 51.82L594.20 53.57L594.70 55.30L595.20 57.01L595.70 58.68L596.20 60.32L596.70 61.90L597.20 63.43L597.70 64.90L598.20 66.31L598.70 67.65L599.20 68.92L599.70 70.11L600.20 71.24L600.70 72.29L601.20 73.27L601.70 74.18L602.20 75.03L602.70 75.80L603.20 76.51L603.70 77.16L604.20 77.75L604.70 78.29L605.20 78.77L605.70 79.21L606.20 79.60L606.70 79.94L607.20 80.25L607.70 80.53L608.20 80.77L608.70 80.99L609.20 81.17L609.70 81.34L610.20 81.48L610.70 81.60L611.20 81.71L611.70 81.80L612.20 81.88L612.70 81.95L613.20 82.01L613.70 82.05L614.20 82.10L614.70 82.13L615.20 82.16L615.70 82.19L616.20 82.21L616.70 82.22L617.20 82.24L617.70 82.25L618.20 82.26L618.70 82.27L619.20 82.27L619.70 82.28L620.20 82.28L620.70 82.29L621.20 82.29L621.70 82.29L622.20 82.29L622.70 82.29L623.20 82.30L623.70 82.30L624.20 82.30L624.70 82.30L625.20 82.30L625.70 82.30L626.20 82.30L626.70 82.30L627.20 82.30L627.70 82.30L628.20 82.30L628.70 82.30L629.20 82.30L629.70 82.30L630.20 82.30L630.70 82.30L631.20 82.30L631.70 82.30L632.20 82.30L632.70 82.30L633.20 82.30L633.70 82.30L634.20 82.30L634.70 82.30L635.20 82.30L635.70 82.30L636.20 82.30L636.70 82.30L637.20 82.30L637.70 82.30" fill="none" stroke="#404040" stroke-width="1.25"/>
<path d="M530.20 82.30L530.70 82.30L531.20 82.30L531.70 82.30L532.20 82.30L532.70 82.30L533.20 82.30L533.70 82.30L534.20 82.30L534.70 82.30L535.20 82.30L535.70 82.30L536.20 82.30L536.70 82.30L537.20 82.30L537.70 82.30L538.20 82.30L538.70 82.30L539.20 82.30L539.70 82.30L540.20 82.30L540.70 82.30L541.20 82.30L541.70 82.30L542.20 82.30L542.70 82.30L543.20 82.30L543.70 82.30L544.20 82.30L544.70 82.30L545.20 82.30L545.70 82.30L546.20 82.30L546.70 82.30L547.20 82.30L547.70 82.30L548.20 82.30L548.70 82.30L549.20 82.29L549.70 82.29L550.20 82.29L550.70 82.29L551.20 82.28L551.70 82.28L552.20 82.27L552.70 82.27L553.20 82.26L553.70 82.25L554.20 82.24L554.70 82.22L555.20 82.20L555.70 82.18L556.20 82.15L556.70 82.12L557.20 82.08L557.70 82.03L558.20 81.97L558.70 81.91L559.20 81.82L559.70 81.73L560.20 81.62L560.70 81.49L561.20 81.33L561.70 81.16L562.20 80.95L562.70 80.72L563.20 80.45L563.70 80.14L564.20 79.79L564.70 79.40L565.20 78.95L565.70 78.45L566.20 77.90L566.70 77.28L567.20 76.59L567.70 75.83L568.20 75.00L568.70 74.09L569.20 73.11L569.70 72.04L570.20 70.89L570.70 69.65L571.20 68.34L571.70 66.94L572.20 65.46L572.70 63.91L573.20 62.29L573.70 60.60L574.20 58.86L574.70 57.06L575.20 55.23L575.70 53.37L576.20 51.50L576.70 49.62L577.20 47.76L577.70 45.92L578.20 44.12L578.70 42.38L579.20 40.70L579.70 39.12L580.20 37.64L580.70 36.27L581.20 35.04L581.70 33.94L582.20 33.00L582.70 32.23L583.20 31.63L583.70 31.20L584.20 30.96L584.70 30.90L585.20 31.03L585.70 31.35L586.20 31.85L586.70 32.52L587.20 33.36L587.70 34.36L588.20 35.51L588.70 36.80L589.20 38.22L589.70 39.74L590.20 41.36L590.70 43.06L591.20 44.83L591.70 46.65L592.20 48.50L592.70 50.37L593.20 52.25L593.70 54.12L594.20 55.97L594.70 57.79L595.20 59.56L595.70 61.28L596.20 62.94L596.70 64.54L597.20 66.06L597.70 67.51L598.20 68.87L598.70 70.16L599.20 71.36L599.70 72.48L600.20 73.51L600.70 74.47L601.20 75.34L601.70 76.14L602.20 76.87L602.70 77.53L603.20 78.13L603.70 78.66L604.20 79.14L604.70 79.56L605.20 79.94L605.70 80.27L606.20 80.56L606.70 80.82L607.20 81.04L607.70 81.23L608.20 81.40L608.70 81.54L609.20 81.66L609.70 81.77L610.20 81.86L610.70 81.93L611.20 82.00L611.70 82.05L612.20 82.10L612.70 82.13L613.20 82.16L613.70 82.19L614.20 82.21L614.70 82.23L615.20 82.24L615.70 82.25L616.20 82.26L616.70 82.27L617.20 82.28L617.70 82.28L618.20 82.29L618.70 82.29L619.20 82.29L619.70 82.29L620.20 82.29L620.70 82.30L621.20 82.30L621.70 82.30L622.20 82.30L622.70 82.30L623.20 82.30L623.70 82.30L624.20 82.30L624.70 82.30L625.20 82.30L625.70 82.30L626.20 82.30L626.70 82.30L627.20 82.30L627.70 82.30L628.20 82.30L628.70 82.30L629.20 82.30L629.70 82.30L630.20 82.30L630.70 82.30L631.20 82.30L631.70 82.30L632.20 82.30L632.70 82.30L633.20 82.30L633.70 82.30L634.20 82.30L634.70 82.30L635.20 82.30L635.70 82.30L636.20 82.30L636.70 82.30L637.20 82.30L637.70 82.30" fill="none" stroke="#1414f0" stroke-width="1.25" stroke-dasharray="2.4 2.5"/>
<path d="M535.7 9.2h12.8" stroke="#404040" stroke-width="1.25"/><path d="M535.7 21h12.8" stroke="#1414f0" stroke-width="1.4" stroke-dasharray="2.4 2.8"/>
<text class="w sm" x="553" y="12.2">Simulated</text><text class="w sm" x="553" y="24.3">Fitted</text>
<text class="blue sm" x="589.2" y="32.7">187 × 1.54 fs</text>
<path d="M548.5 56.2h21" stroke="#1414f0" stroke-width="1.1"/><path d="M573.8 56.2l-5-2.1v4.2z" fill="#1414f0"/>
<path d="M620.8 56.2h-21" stroke="#1414f0" stroke-width="1.1"/><path d="M595.8 56.2l5-2.1v4.2z" fill="#1414f0"/>
<text class="w sm" transform="translate(523.3 43.2) rotate(-90)" text-anchor="middle">Intensity (a.u.)</text>
<text class="sm" x="530.2" y="94.8" text-anchor="middle">–1</text><text class="sm" x="584" y="94.8" text-anchor="middle">0</text><text class="sm" x="637.7" y="94.8" text-anchor="middle">1</text>
<text class="w sm" x="584" y="105.2" text-anchor="middle">Delay (ps)</text>
<text class="pl" x="0" y="8.7">a</text><text class="pl" x="0" y="157">b</text><text class="pl" x="348.4" y="9.3">c</text><text class="pl" x="348.4" y="157">d</text>
<text x="29.4" y="279.3" text-anchor="end">0</text>
<text x="29.4" y="259.5" text-anchor="end">2</text>
<text x="29.4" y="239.8" text-anchor="end">4</text>
<text x="29.4" y="220.0" text-anchor="end">6</text>
<text x="29.4" y="200.2" text-anchor="end">8</text>
<text x="29.4" y="180.5" text-anchor="end">10</text>
<text x="29.4" y="160.7" text-anchor="end">12</text>
<text x="33.8" y="290" text-anchor="middle">3000</text>
<text x="76.9" y="290" text-anchor="middle">3500</text>
<text x="120.0" y="290" text-anchor="middle">4000</text>
<text x="163.1" y="290" text-anchor="middle">4500</text>
<text x="206.2" y="290" text-anchor="middle">5000</text>
<text x="249.3" y="290" text-anchor="middle">5500</text>
<text x="292.4" y="290" text-anchor="middle">6000</text>
<text class="w" x="163.1" y="305.5" text-anchor="middle">Wavelength (nm)</text>
<text class="w" transform="translate(9.6 211.6) rotate(-90)" text-anchor="middle">Fiber length (cm)</text>
<text x="315.2" y="151.8">0</text>
<text x="315.2" y="177.5">–10</text>
<text x="315.2" y="203.2">–20</text>
<text x="315.2" y="228.9">–30</text>
<text x="315.2" y="254.6">–40</text>
<text x="315.2" y="280.3">–50</text>
<text x="378.6" y="282.1" text-anchor="end">0</text>
<text x="378.6" y="262.4" text-anchor="end">2</text>
<text x="378.6" y="242.7" text-anchor="end">4</text>
<text x="378.6" y="222.9" text-anchor="end">6</text>
<text x="378.6" y="203.2" text-anchor="end">8</text>
<text x="378.6" y="183.5" text-anchor="end">10</text>
<text x="378.6" y="163.8" text-anchor="end">12</text>
<text x="383.2" y="292.9" text-anchor="middle">–5</text>
<text x="471.0" y="292.9" text-anchor="middle">0</text>
<text x="558.8" y="292.9" text-anchor="middle">5</text>
<text x="646.6" y="292.9" text-anchor="middle">10</text>
<text class="w" x="514.8" y="305.5" text-anchor="middle">Delay (ps)</text>
<text class="w" transform="translate(359.4 213) rotate(-90)" text-anchor="middle">Fiber length (cm)</text>
<text x="667.8" y="153.8">0</text>
<text x="667.8" y="175.2">–5</text>
<text x="667.8" y="196.6">–10</text>
<text x="667.8" y="218.0">–15</text>
<text x="667.8" y="239.4">–20</text>
<text x="667.8" y="260.8">–25</text>
<text x="667.8" y="282.2">–30</text>
</svg></body></html>
